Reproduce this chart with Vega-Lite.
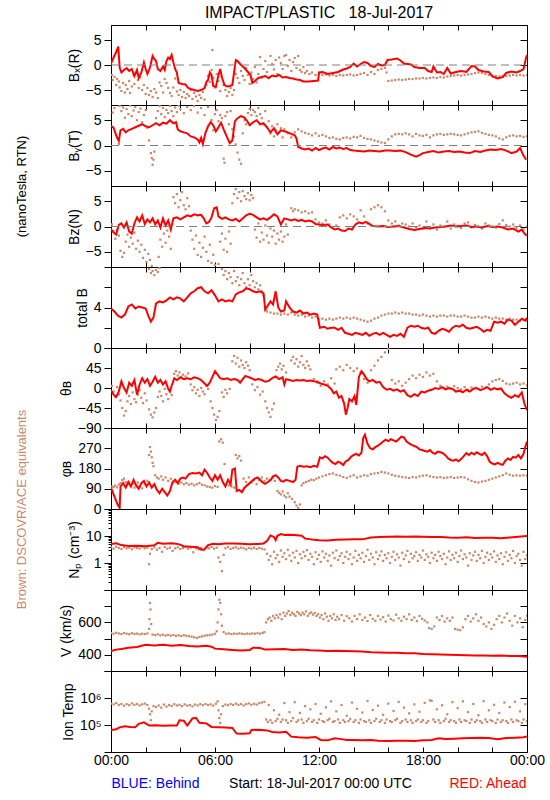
{
"$schema":"https://vega.github.io/schema/vega-lite/v6.json",
"background":"white",
"padding":{"left":14,"top":4,"right":5,"bottom":5},
"spacing":0,
"bounds":"flush",
"config":{"view":{"stroke":"black","strokeWidth":1},"font":"Liberation Sans",
"axis":{"labelFont":"Liberation Sans","labelFontSize":14,"titleFont":"Liberation Sans","titleFontSize":14,"titleFontWeight":"normal","labelColor":"black","titleColor":"black","tickColor":"black","grid":false,"domain":false,"labelPadding":3,"titlePadding":4,"tickWidth":1},
"title":{"font":"Liberation Sans","fontWeight":"normal","color":"black"}},
"datasets":{
"r1":[{"t":0,"v":0.3},{"t":0.15,"v":1.5},{"t":0.3,"v":2.6},{"t":0.42,"v":3.7},{"t":0.5,"v":-0.5},{"t":0.6,"v":-1.5},{"t":0.75,"v":-1.0},{"t":0.9,"v":-0.6},{"t":1.05,"v":-1.2},{"t":1.2,"v":-0.8},{"t":1.35,"v":-2.2},{"t":1.5,"v":-1.0},{"t":1.6,"v":-2.6},{"t":1.75,"v":-1.5},{"t":1.9,"v":0.5},{"t":2.0,"v":-0.8},{"t":2.1,"v":-1.8},{"t":2.25,"v":-0.5},{"t":2.4,"v":1.8},{"t":2.5,"v":1.2},{"t":2.6,"v":0.8},{"t":2.7,"v":-0.8},{"t":2.85,"v":-1.2},{"t":3.0,"v":-0.3},{"t":3.1,"v":-1.0},{"t":3.2,"v":0.8},{"t":3.3,"v":1.5},{"t":3.4,"v":1.2},{"t":3.5,"v":2.0},{"t":3.6,"v":0.5},{"t":3.7,"v":-0.8},{"t":3.8,"v":-1.5},{"t":3.9,"v":-3.6},{"t":4.1,"v":-3.8},{"t":4.3,"v":-3.9},{"t":4.45,"v":-4.6},{"t":4.6,"v":-4.8},{"t":4.8,"v":-5.0},{"t":5.0,"v":-5.2},{"t":5.2,"v":-5.0},{"t":5.4,"v":-4.6},{"t":5.5,"v":-3.4},{"t":5.6,"v":-3.0},{"t":5.7,"v":-1.5},{"t":5.8,"v":-2.0},{"t":5.9,"v":-4.2},{"t":6.05,"v":-4.4},{"t":6.2,"v":-2.0},{"t":6.3,"v":-0.8},{"t":6.4,"v":-2.5},{"t":6.55,"v":-4.0},{"t":6.7,"v":-4.3},{"t":6.85,"v":-4.2},{"t":7.0,"v":-4.0},{"t":7.1,"v":-1.5},{"t":7.2,"v":1.0},{"t":7.3,"v":0.8},{"t":7.45,"v":0.2},{"t":7.6,"v":-0.3},{"t":7.75,"v":-0.8},{"t":7.9,"v":-1.4},{"t":8.05,"v":-2.0},{"t":8.15,"v":-3.6},{"t":8.3,"v":-3.2},{"t":8.5,"v":-2.6},{"t":8.7,"v":-2.4},{"t":8.9,"v":-2.2},{"t":9.1,"v":-2.6},{"t":9.3,"v":-2.1},{"t":9.5,"v":-2.3},{"t":9.7,"v":-2.0},{"t":9.9,"v":-2.5},{"t":10.1,"v":-2.4},{"t":10.3,"v":-2.6},{"t":10.5,"v":-2.7},{"t":10.7,"v":-2.9},{"t":10.9,"v":-3.0},{"t":11.1,"v":-3.3},{"t":11.4,"v":-3.3},{"t":11.7,"v":-3.2},{"t":11.95,"v":-3.1},{"t":12.0,"v":-1.5},{"t":12.2,"v":-1.4},{"t":12.5,"v":-1.8},{"t":12.8,"v":-1.6},{"t":13.1,"v":-1.4},{"t":13.4,"v":-0.9},{"t":13.6,"v":-0.7},{"t":13.8,"v":-0.4},{"t":14.0,"v":0.3},{"t":14.2,"v":-0.3},{"t":14.4,"v":0.2},{"t":14.6,"v":0.6},{"t":14.8,"v":0.4},{"t":15.0,"v":-0.2},{"t":15.2,"v":-0.4},{"t":15.4,"v":0.2},{"t":15.6,"v":-0.1},{"t":15.8,"v":0.0},{"t":15.95,"v":1.0},{"t":16.2,"v":1.1},{"t":16.5,"v":1.3},{"t":16.7,"v":0.9},{"t":16.9,"v":0.3},{"t":17.1,"v":0.2},{"t":17.3,"v":0.1},{"t":17.5,"v":-0.4},{"t":17.8,"v":-0.6},{"t":18.1,"v":-0.6},{"t":18.3,"v":-1.2},{"t":18.5,"v":-1.4},{"t":18.6,"v":-0.3},{"t":18.8,"v":-1.5},{"t":19.0,"v":-1.4},{"t":19.2,"v":-1.8},{"t":19.4,"v":-0.6},{"t":19.6,"v":-1.7},{"t":19.9,"v":-1.4},{"t":20.2,"v":-1.2},{"t":20.5,"v":-1.4},{"t":20.8,"v":-0.2},{"t":21.0,"v":-0.3},{"t":21.2,"v":-1.0},{"t":21.5,"v":-1.3},{"t":21.8,"v":-1.4},{"t":22.0,"v":-2.3},{"t":22.3,"v":-2.7},{"t":22.6,"v":-2.4},{"t":22.8,"v":-1.6},{"t":23.1,"v":-1.3},{"t":23.4,"v":-1.5},{"t":23.6,"v":-1.2},{"t":23.8,"v":-0.8},{"t":23.95,"v":1.5},{"t":24,"v":2.0}],
"b1":[{"t":0.05,"v":-2.0},{"t":0.1,"v":-3.0},{"t":0.2,"v":-2.4},{"t":0.3,"v":-4.0},{"t":0.35,"v":-2.8},{"t":0.45,"v":-3.3},{"t":0.5,"v":-4.5},{"t":0.6,"v":-5.2},{"t":0.7,"v":-3.6},{"t":0.8,"v":-5.5},{"t":0.85,"v":-4.0},{"t":0.95,"v":-4.8},{"t":1.05,"v":-3.2},{"t":1.1,"v":-5.6},{"t":1.2,"v":-4.3},{"t":1.3,"v":-2.0},{"t":1.35,"v":-3.8},{"t":1.45,"v":-1.6},{"t":1.55,"v":-3.0},{"t":1.6,"v":-4.6},{"t":1.7,"v":-2.5},{"t":1.8,"v":-5.0},{"t":1.9,"v":-4.0},{"t":2.0,"v":-5.8},{"t":2.1,"v":-4.6},{"t":2.2,"v":-6.0},{"t":2.3,"v":-5.2},{"t":2.4,"v":-6.4},{"t":2.5,"v":-4.8},{"t":2.6,"v":-5.5},{"t":2.7,"v":-6.6},{"t":2.8,"v":-3.5},{"t":2.9,"v":-4.2},{"t":3.0,"v":-5.5},{"t":3.1,"v":-2.8},{"t":3.2,"v":-3.6},{"t":3.3,"v":-4.6},{"t":3.4,"v":-5.6},{"t":3.5,"v":-6.2},{"t":3.6,"v":-4.5},{"t":3.7,"v":-2.7},{"t":3.8,"v":-5.3},{"t":3.9,"v":-6.0},{"t":4.0,"v":-5.0},{"t":4.1,"v":-6.4},{"t":4.2,"v":-5.4},{"t":4.3,"v":-6.6},{"t":4.4,"v":-5.8},{"t":4.5,"v":-6.2},{"t":4.6,"v":-5.0},{"t":4.7,"v":-6.8},{"t":4.8,"v":-5.6},{"t":4.9,"v":-6.3},{"t":5.0,"v":-7.2},{"t":5.1,"v":-6.0},{"t":5.2,"v":-6.6},{"t":5.3,"v":-5.4},{"t":5.4,"v":-6.9},{"t":5.5,"v":-4.0},{"t":5.6,"v":-2.2},{"t":5.7,"v":-3.4},{"t":5.8,"v":-1.0},{"t":5.85,"v":3.0},{"t":5.9,"v":-2.6},{"t":6.0,"v":-4.5},{"t":6.1,"v":-1.8},{"t":6.2,"v":-3.2},{"t":6.3,"v":-5.2},{"t":6.4,"v":-2.4},{"t":6.5,"v":-4.0},{"t":6.6,"v":-5.0},{"t":6.7,"v":-6.2},{"t":6.8,"v":-5.4},{"t":6.9,"v":-4.6},{"t":7.0,"v":-6.0},{"t":7.1,"v":-5.0},{"t":7.2,"v":-1.8},{"t":7.3,"v":-2.6},{"t":7.4,"v":-3.6},{"t":7.5,"v":-1.2},{"t":7.6,"v":-2.2},{"t":7.7,"v":-3.0},{"t":7.8,"v":-0.6},{"t":7.9,"v":-2.0},{"t":8.0,"v":-3.8},{"t":8.1,"v":-1.5},{"t":8.2,"v":-2.8},{"t":8.3,"v":-0.4},{"t":8.4,"v":-3.5},{"t":8.5,"v":-1.8},{"t":8.6,"v":1.6},{"t":8.7,"v":-2.5},{"t":8.8,"v":-0.8},{"t":8.9,"v":0.8},{"t":9.0,"v":-1.4},{"t":9.1,"v":-2.6},{"t":9.2,"v":1.8},{"t":9.3,"v":0.2},{"t":9.4,"v":-0.9},{"t":9.5,"v":1.0},{"t":9.6,"v":-1.8},{"t":9.7,"v":1.5},{"t":9.8,"v":0.4},{"t":9.9,"v":-0.8},{"t":10.0,"v":1.8},{"t":10.1,"v":2.0},{"t":10.2,"v":-0.2},{"t":10.3,"v":1.0},{"t":10.4,"v":-1.2},{"t":10.5,"v":0.6},{"t":10.6,"v":1.4},{"t":10.7,"v":-0.6},{"t":10.8,"v":1.8},{"t":10.9,"v":-1.0},{"t":11.0,"v":-1.4},{"t":11.1,"v":-0.4},{"t":11.2,"v":-1.6},{"t":11.3,"v":-1.2},{"t":11.45,"v":-1.8},{"t":11.6,"v":-1.5},{"t":11.8,"v":-2.0},{"t":12.0,"v":-1.8},{"t":12.2,"v":-2.0},{"t":12.4,"v":-1.9},{"t":12.6,"v":-2.1},{"t":12.8,"v":-2.0},{"t":13.0,"v":-2.2},{"t":13.2,"v":-2.0},{"t":13.4,"v":-2.1},{"t":13.6,"v":-2.0},{"t":13.8,"v":-1.9},{"t":14.0,"v":-2.1},{"t":14.2,"v":-2.0},{"t":14.4,"v":-1.8},{"t":14.6,"v":-1.6},{"t":14.8,"v":-2.0},{"t":15.0,"v":-1.4},{"t":15.2,"v":-1.8},{"t":15.4,"v":-1.0},{"t":15.6,"v":-0.8},{"t":15.8,"v":-0.6},{"t":15.9,"v":-1.5},{"t":16.0,"v":-3.2},{"t":16.2,"v":-3.1},{"t":16.4,"v":-3.0},{"t":16.6,"v":-2.9},{"t":16.8,"v":-3.0},{"t":17.0,"v":-2.9},{"t":17.2,"v":-2.8},{"t":17.4,"v":-2.8},{"t":17.6,"v":-2.7},{"t":17.8,"v":-2.7},{"t":18.0,"v":-2.6},{"t":18.2,"v":-2.7},{"t":18.4,"v":-2.6},{"t":18.6,"v":-2.5},{"t":18.8,"v":-2.6},{"t":19.0,"v":-2.4},{"t":19.2,"v":-2.5},{"t":19.4,"v":-2.3},{"t":19.6,"v":-2.2},{"t":19.8,"v":-2.1},{"t":20.0,"v":-2.0},{"t":20.2,"v":-2.1},{"t":20.4,"v":-2.0},{"t":20.6,"v":-1.9},{"t":20.8,"v":-1.8},{"t":21.0,"v":-1.6},{"t":21.2,"v":-1.5},{"t":21.4,"v":-1.6},{"t":21.6,"v":-1.8},{"t":21.8,"v":-2.0},{"t":22.0,"v":-2.1},{"t":22.2,"v":-2.2},{"t":22.4,"v":-2.3},{"t":22.6,"v":-2.3},{"t":22.8,"v":-2.2},{"t":23.0,"v":-2.1},{"t":23.2,"v":-2.0},{"t":23.4,"v":-2.1},{"t":23.6,"v":-2.0},{"t":23.8,"v":-2.1},{"t":24.0,"v":-2.0}],
"r2":[{"t":0,"v":3.9},{"t":0.15,"v":3.5},{"t":0.3,"v":2.0},{"t":0.45,"v":0.9},{"t":0.55,"v":3.0},{"t":0.7,"v":3.3},{"t":0.85,"v":2.6},{"t":1.0,"v":3.0},{"t":1.2,"v":3.3},{"t":1.4,"v":3.6},{"t":1.6,"v":3.9},{"t":1.8,"v":4.2},{"t":2.0,"v":3.8},{"t":2.2,"v":3.6},{"t":2.4,"v":4.0},{"t":2.6,"v":4.4},{"t":2.8,"v":4.0},{"t":3.0,"v":4.5},{"t":3.2,"v":4.3},{"t":3.4,"v":5.0},{"t":3.6,"v":4.4},{"t":3.75,"v":4.6},{"t":3.85,"v":3.2},{"t":4.0,"v":2.8},{"t":4.2,"v":2.6},{"t":4.4,"v":2.4},{"t":4.6,"v":1.8},{"t":4.8,"v":1.6},{"t":5.0,"v":1.2},{"t":5.1,"v":0.6},{"t":5.2,"v":1.5},{"t":5.3,"v":0.3},{"t":5.45,"v":2.5},{"t":5.6,"v":3.8},{"t":5.75,"v":4.6},{"t":5.9,"v":4.0},{"t":6.05,"v":2.8},{"t":6.2,"v":3.6},{"t":6.35,"v":4.5},{"t":6.5,"v":3.2},{"t":6.6,"v":2.4},{"t":6.75,"v":1.2},{"t":6.85,"v":0.5},{"t":7.0,"v":1.0},{"t":7.15,"v":4.8},{"t":7.3,"v":5.4},{"t":7.5,"v":5.8},{"t":7.7,"v":5.5},{"t":7.9,"v":4.6},{"t":8.0,"v":4.0},{"t":8.2,"v":4.6},{"t":8.4,"v":5.0},{"t":8.6,"v":4.2},{"t":8.8,"v":4.4},{"t":9.0,"v":3.6},{"t":9.2,"v":2.6},{"t":9.4,"v":3.4},{"t":9.6,"v":2.2},{"t":9.8,"v":3.0},{"t":10.0,"v":2.8},{"t":10.2,"v":2.6},{"t":10.4,"v":2.3},{"t":10.6,"v":2.0},{"t":10.7,"v":1.4},{"t":10.8,"v":-0.3},{"t":11.0,"v":-0.6},{"t":11.2,"v":-0.8},{"t":11.4,"v":-0.6},{"t":11.6,"v":-1.0},{"t":11.8,"v":-0.5},{"t":12.0,"v":-0.9},{"t":12.2,"v":-0.6},{"t":12.4,"v":-0.4},{"t":12.6,"v":-0.8},{"t":12.8,"v":-0.3},{"t":13.0,"v":-0.6},{"t":13.2,"v":-0.4},{"t":13.4,"v":-0.7},{"t":13.6,"v":-0.5},{"t":13.8,"v":-0.9},{"t":14.0,"v":-1.0},{"t":14.3,"v":-1.1},{"t":14.6,"v":-1.2},{"t":14.9,"v":-1.0},{"t":15.2,"v":-1.1},{"t":15.5,"v":-1.2},{"t":15.8,"v":-1.0},{"t":16.1,"v":-1.0},{"t":16.4,"v":-1.1},{"t":16.7,"v":-1.0},{"t":17.0,"v":-1.3},{"t":17.3,"v":-1.8},{"t":17.6,"v":-2.2},{"t":17.8,"v":-1.9},{"t":18.0,"v":-1.5},{"t":18.3,"v":-1.3},{"t":18.6,"v":-1.1},{"t":18.9,"v":-1.4},{"t":19.2,"v":-1.2},{"t":19.5,"v":-1.1},{"t":19.8,"v":-1.3},{"t":20.1,"v":-1.2},{"t":20.4,"v":-1.4},{"t":20.7,"v":-1.5},{"t":21.0,"v":-1.1},{"t":21.3,"v":-1.3},{"t":21.6,"v":-1.0},{"t":21.9,"v":-0.8},{"t":22.2,"v":-0.9},{"t":22.5,"v":-0.7},{"t":22.8,"v":-1.0},{"t":23.1,"v":-1.5},{"t":23.4,"v":-1.2},{"t":23.6,"v":-0.5},{"t":23.8,"v":-2.0},{"t":23.95,"v":-2.8}],
"b2":[{"t":0.1,"v":6.5},{"t":0.2,"v":7.4},{"t":0.35,"v":1.5},{"t":0.45,"v":0.3},{"t":0.5,"v":7.8},{"t":0.6,"v":6.8},{"t":0.7,"v":7.5},{"t":0.8,"v":5.5},{"t":0.9,"v":7.2},{"t":1.0,"v":6.2},{"t":1.1,"v":7.9},{"t":1.2,"v":5.8},{"t":1.3,"v":6.9},{"t":1.4,"v":7.6},{"t":1.5,"v":5.0},{"t":1.6,"v":6.6},{"t":1.7,"v":7.3},{"t":1.8,"v":4.6},{"t":1.9,"v":6.0},{"t":2.0,"v":7.0},{"t":2.1,"v":3.5},{"t":2.2,"v":1.0},{"t":2.3,"v":-1.5},{"t":2.35,"v":-2.5},{"t":2.4,"v":-3.8},{"t":2.45,"v":-2.8},{"t":2.5,"v":-1.2},{"t":2.6,"v":5.4},{"t":2.7,"v":6.8},{"t":2.8,"v":7.8},{"t":2.9,"v":6.2},{"t":3.0,"v":7.4},{"t":3.1,"v":5.6},{"t":3.2,"v":7.0},{"t":3.3,"v":6.4},{"t":3.4,"v":7.8},{"t":3.5,"v":6.8},{"t":3.6,"v":5.8},{"t":3.7,"v":7.5},{"t":3.8,"v":6.6},{"t":3.9,"v":7.9},{"t":4.0,"v":7.2},{"t":4.2,"v":6.4},{"t":4.4,"v":7.6},{"t":4.6,"v":7.0},{"t":4.8,"v":7.8},{"t":5.0,"v":6.5},{"t":5.2,"v":7.4},{"t":5.4,"v":6.0},{"t":5.6,"v":7.6},{"t":5.8,"v":5.0},{"t":5.9,"v":3.0},{"t":6.0,"v":6.2},{"t":6.1,"v":7.0},{"t":6.2,"v":4.8},{"t":6.3,"v":6.0},{"t":6.4,"v":5.4},{"t":6.5,"v":-2.6},{"t":6.55,"v":-3.4},{"t":6.6,"v":5.8},{"t":6.7,"v":6.6},{"t":6.8,"v":4.2},{"t":6.9,"v":6.8},{"t":7.0,"v":3.2},{"t":7.1,"v":1.8},{"t":7.2,"v":0.2},{"t":7.3,"v":-1.4},{"t":7.4,"v":-2.8},{"t":7.5,"v":-3.6},{"t":7.6,"v":2.4},{"t":7.7,"v":5.0},{"t":7.8,"v":4.2},{"t":7.9,"v":6.4},{"t":8.0,"v":7.2},{"t":8.1,"v":6.0},{"t":8.2,"v":7.0},{"t":8.3,"v":6.6},{"t":8.4,"v":5.8},{"t":8.5,"v":7.4},{"t":8.6,"v":6.2},{"t":8.7,"v":5.4},{"t":8.8,"v":4.2},{"t":8.9,"v":6.8},{"t":9.0,"v":3.6},{"t":9.1,"v":4.8},{"t":9.2,"v":2.4},{"t":9.3,"v":3.8},{"t":9.4,"v":1.8},{"t":9.5,"v":3.0},{"t":9.6,"v":4.2},{"t":9.7,"v":2.6},{"t":9.8,"v":3.4},{"t":9.9,"v":1.6},{"t":10.0,"v":3.2},{"t":10.2,"v":2.4},{"t":10.4,"v":1.6},{"t":10.6,"v":2.6},{"t":10.8,"v":3.2},{"t":11.0,"v":2.8},{"t":11.2,"v":2.5},{"t":11.4,"v":2.3},{"t":11.6,"v":2.0},{"t":11.8,"v":2.4},{"t":12.0,"v":1.9},{"t":12.2,"v":2.1},{"t":12.4,"v":1.8},{"t":12.6,"v":1.5},{"t":12.8,"v":1.6},{"t":13.0,"v":1.3},{"t":13.2,"v":1.2},{"t":13.4,"v":1.5},{"t":13.6,"v":1.6},{"t":13.8,"v":1.4},{"t":14.0,"v":1.7},{"t":14.2,"v":1.6},{"t":14.4,"v":1.9},{"t":14.6,"v":1.5},{"t":14.8,"v":1.3},{"t":15.0,"v":1.2},{"t":15.2,"v":1.0},{"t":15.4,"v":0.8},{"t":15.6,"v":0.6},{"t":15.8,"v":0.5},{"t":16.0,"v":1.2},{"t":16.2,"v":1.8},{"t":16.4,"v":2.2},{"t":16.6,"v":2.3},{"t":16.8,"v":2.2},{"t":17.0,"v":2.4},{"t":17.2,"v":2.2},{"t":17.4,"v":1.8},{"t":17.6,"v":2.3},{"t":17.8,"v":2.0},{"t":18.0,"v":1.9},{"t":18.2,"v":2.1},{"t":18.4,"v":1.6},{"t":18.6,"v":2.0},{"t":18.8,"v":2.2},{"t":19.0,"v":2.3},{"t":19.2,"v":2.1},{"t":19.4,"v":2.2},{"t":19.6,"v":2.3},{"t":19.8,"v":2.2},{"t":20.0,"v":2.1},{"t":20.2,"v":2.0},{"t":20.4,"v":2.2},{"t":20.6,"v":2.4},{"t":20.8,"v":2.6},{"t":21.0,"v":2.7},{"t":21.2,"v":2.8},{"t":21.4,"v":2.5},{"t":21.6,"v":2.3},{"t":21.8,"v":2.1},{"t":22.0,"v":2.0},{"t":22.2,"v":1.8},{"t":22.4,"v":1.4},{"t":22.6,"v":1.2},{"t":22.8,"v":1.6},{"t":23.0,"v":1.9},{"t":23.2,"v":2.0},{"t":23.4,"v":1.8},{"t":23.6,"v":1.9},{"t":23.8,"v":1.7},{"t":24.0,"v":1.8}],
"r3":[{"t":0,"v":-0.5},{"t":0.15,"v":-1.2},{"t":0.3,"v":-1.6},{"t":0.45,"v":0.3},{"t":0.6,"v":0.6},{"t":0.75,"v":-0.2},{"t":0.9,"v":0.8},{"t":1.05,"v":-1.0},{"t":1.2,"v":-1.4},{"t":1.35,"v":0.6},{"t":1.5,"v":1.8},{"t":1.65,"v":1.0},{"t":1.8,"v":2.2},{"t":1.95,"v":0.5},{"t":2.1,"v":1.4},{"t":2.25,"v":0.8},{"t":2.4,"v":1.6},{"t":2.55,"v":0.4},{"t":2.7,"v":1.2},{"t":2.85,"v":-0.2},{"t":3.0,"v":1.6},{"t":3.15,"v":0.2},{"t":3.3,"v":1.2},{"t":3.45,"v":-0.6},{"t":3.6,"v":1.6},{"t":3.8,"v":1.8},{"t":4.0,"v":1.4},{"t":4.2,"v":1.8},{"t":4.4,"v":2.2},{"t":4.6,"v":2.0},{"t":4.8,"v":2.4},{"t":5.0,"v":2.2},{"t":5.2,"v":2.3},{"t":5.35,"v":1.6},{"t":5.5,"v":0.6},{"t":5.65,"v":0.9},{"t":5.8,"v":1.8},{"t":5.95,"v":3.6},{"t":6.1,"v":3.8},{"t":6.2,"v":2.0},{"t":6.4,"v":1.5},{"t":6.6,"v":1.8},{"t":6.8,"v":1.4},{"t":7.0,"v":1.2},{"t":7.2,"v":1.5},{"t":7.4,"v":1.0},{"t":7.6,"v":1.6},{"t":7.8,"v":2.2},{"t":8.0,"v":2.5},{"t":8.2,"v":2.3},{"t":8.4,"v":1.8},{"t":8.6,"v":1.4},{"t":8.8,"v":1.6},{"t":9.0,"v":1.3},{"t":9.2,"v":1.8},{"t":9.4,"v":2.4},{"t":9.6,"v":2.0},{"t":9.8,"v":0.4},{"t":10.0,"v":1.6},{"t":10.2,"v":1.4},{"t":10.4,"v":1.2},{"t":10.6,"v":1.4},{"t":10.8,"v":1.1},{"t":11.0,"v":1.3},{"t":11.2,"v":1.0},{"t":11.4,"v":1.2},{"t":11.6,"v":1.0},{"t":11.8,"v":0.5},{"t":12.0,"v":0.4},{"t":12.2,"v":0.3},{"t":12.5,"v":0.4},{"t":12.7,"v":-0.2},{"t":12.9,"v":-0.6},{"t":13.1,"v":-0.4},{"t":13.3,"v":-0.8},{"t":13.5,"v":-0.9},{"t":13.7,"v":-0.4},{"t":13.9,"v":-0.6},{"t":14.1,"v":0.4},{"t":14.3,"v":0.8},{"t":14.5,"v":0.6},{"t":14.7,"v":0.9},{"t":14.9,"v":0.5},{"t":15.1,"v":0.1},{"t":15.4,"v":0.0},{"t":15.7,"v":0.1},{"t":16.0,"v":-0.1},{"t":16.3,"v":0.0},{"t":16.6,"v":0.1},{"t":16.9,"v":-0.2},{"t":17.2,"v":-0.5},{"t":17.5,"v":-0.7},{"t":17.8,"v":-0.5},{"t":18.1,"v":-0.3},{"t":18.4,"v":-0.4},{"t":18.7,"v":-0.2},{"t":19.0,"v":-0.1},{"t":19.3,"v":0.0},{"t":19.6,"v":0.2},{"t":19.9,"v":0.0},{"t":20.2,"v":0.1},{"t":20.5,"v":0.2},{"t":20.8,"v":-0.1},{"t":21.1,"v":0.0},{"t":21.4,"v":-0.2},{"t":21.7,"v":0.1},{"t":22.0,"v":-0.1},{"t":22.3,"v":0.0},{"t":22.6,"v":-0.2},{"t":22.9,"v":-0.6},{"t":23.2,"v":-0.4},{"t":23.5,"v":-1.0},{"t":23.7,"v":-0.6},{"t":23.85,"v":-1.4},{"t":24,"v":-1.8}],
"b3":[{"t":0.05,"v":0.4},{"t":0.15,"v":-1.0},{"t":0.25,"v":-2.4},{"t":0.35,"v":-0.6},{"t":0.45,"v":-1.8},{"t":0.55,"v":-4.8},{"t":0.65,"v":-6.0},{"t":0.75,"v":-5.2},{"t":0.85,"v":-3.0},{"t":0.95,"v":-1.6},{"t":1.05,"v":-4.0},{"t":1.15,"v":-2.2},{"t":1.25,"v":-3.4},{"t":1.35,"v":-1.2},{"t":1.45,"v":-4.4},{"t":1.55,"v":-2.8},{"t":1.65,"v":-5.0},{"t":1.75,"v":-3.6},{"t":1.85,"v":-6.2},{"t":1.95,"v":-4.6},{"t":2.05,"v":-7.0},{"t":2.15,"v":-5.4},{"t":2.25,"v":-6.6},{"t":2.35,"v":-7.8},{"t":2.45,"v":-8.5},{"t":2.55,"v":-9.0},{"t":2.65,"v":-8.2},{"t":2.75,"v":-6.0},{"t":2.85,"v":-2.6},{"t":2.95,"v":-4.0},{"t":3.05,"v":-1.4},{"t":3.15,"v":-3.2},{"t":3.25,"v":-0.8},{"t":3.35,"v":-2.0},{"t":3.45,"v":-4.4},{"t":3.6,"v":5.8},{"t":3.7,"v":4.6},{"t":3.8,"v":6.4},{"t":3.9,"v":3.8},{"t":4.0,"v":5.2},{"t":4.1,"v":6.8},{"t":4.2,"v":4.2},{"t":4.3,"v":3.4},{"t":4.4,"v":5.6},{"t":4.5,"v":4.0},{"t":4.6,"v":-0.8},{"t":4.7,"v":-2.6},{"t":4.8,"v":-4.4},{"t":4.9,"v":-1.8},{"t":5.0,"v":-5.6},{"t":5.1,"v":-3.2},{"t":5.2,"v":-6.0},{"t":5.3,"v":-4.2},{"t":5.4,"v":-2.0},{"t":5.5,"v":-5.0},{"t":5.6,"v":-6.8},{"t":5.7,"v":-3.6},{"t":5.8,"v":-7.2},{"t":5.9,"v":-5.6},{"t":6.0,"v":-7.6},{"t":6.1,"v":-8.6},{"t":6.2,"v":-7.4},{"t":6.3,"v":-3.0},{"t":6.4,"v":-1.4},{"t":6.5,"v":-4.6},{"t":6.6,"v":-2.4},{"t":6.7,"v":-5.0},{"t":6.8,"v":-1.0},{"t":6.9,"v":-3.4},{"t":7.0,"v":4.6},{"t":7.1,"v":6.4},{"t":7.2,"v":7.4},{"t":7.3,"v":5.6},{"t":7.4,"v":6.8},{"t":7.5,"v":5.0},{"t":7.6,"v":7.0},{"t":7.7,"v":6.0},{"t":7.8,"v":5.4},{"t":7.9,"v":6.6},{"t":8.0,"v":5.2},{"t":8.1,"v":6.2},{"t":8.2,"v":5.6},{"t":8.3,"v":-0.6},{"t":8.4,"v":-2.2},{"t":8.5,"v":0.6},{"t":8.6,"v":-3.0},{"t":8.7,"v":-1.2},{"t":8.8,"v":-2.6},{"t":8.9,"v":0.2},{"t":9.0,"v":-1.8},{"t":9.1,"v":-3.2},{"t":9.2,"v":-0.4},{"t":9.3,"v":-2.0},{"t":9.4,"v":-0.8},{"t":9.5,"v":-3.4},{"t":9.6,"v":-1.4},{"t":9.7,"v":-2.6},{"t":9.8,"v":-1.0},{"t":9.9,"v":-3.0},{"t":10.0,"v":-2.0},{"t":10.1,"v":0.4},{"t":10.2,"v":-1.6},{"t":10.4,"v":3.6},{"t":10.5,"v":3.0},{"t":10.6,"v":3.4},{"t":10.8,"v":3.2},{"t":11.0,"v":2.8},{"t":11.2,"v":3.0},{"t":11.4,"v":2.6},{"t":11.6,"v":2.8},{"t":11.8,"v":1.4},{"t":12.0,"v":0.8},{"t":12.2,"v":0.6},{"t":12.4,"v":1.2},{"t":12.6,"v":0.4},{"t":12.8,"v":-0.2},{"t":13.0,"v":0.2},{"t":13.2,"v":1.8},{"t":13.4,"v":2.2},{"t":13.6,"v":1.6},{"t":13.8,"v":2.4},{"t":14.0,"v":2.0},{"t":14.2,"v":1.4},{"t":14.4,"v":3.2},{"t":14.6,"v":2.0},{"t":14.8,"v":0.6},{"t":15.0,"v":3.4},{"t":15.2,"v":3.8},{"t":15.4,"v":4.2},{"t":15.6,"v":3.8},{"t":15.8,"v":3.0},{"t":16.0,"v":1.2},{"t":16.2,"v":0.6},{"t":16.4,"v":1.0},{"t":16.6,"v":0.2},{"t":16.8,"v":0.6},{"t":17.0,"v":0.4},{"t":17.2,"v":0.0},{"t":17.4,"v":0.6},{"t":17.6,"v":-0.2},{"t":17.8,"v":0.2},{"t":18.0,"v":-0.4},{"t":18.2,"v":1.0},{"t":18.4,"v":-0.2},{"t":18.6,"v":0.4},{"t":18.8,"v":-0.6},{"t":19.0,"v":0.2},{"t":19.2,"v":0.0},{"t":19.4,"v":1.0},{"t":19.6,"v":-0.4},{"t":19.8,"v":0.4},{"t":20.0,"v":0.1},{"t":20.2,"v":-0.3},{"t":20.4,"v":0.6},{"t":20.6,"v":0.8},{"t":20.8,"v":-0.2},{"t":21.0,"v":0.3},{"t":21.2,"v":0.0},{"t":21.4,"v":-0.4},{"t":21.6,"v":0.6},{"t":21.8,"v":0.2},{"t":22.0,"v":0.0},{"t":22.2,"v":-0.2},{"t":22.4,"v":0.5},{"t":22.6,"v":1.2},{"t":22.8,"v":0.3},{"t":23.0,"v":0.0},{"t":23.2,"v":0.4},{"t":23.4,"v":-0.3},{"t":23.6,"v":0.2},{"t":23.8,"v":-0.6},{"t":24.0,"v":0.0}],
"r4":[{"t":0,"v":3.9},{"t":0.2,"v":3.6},{"t":0.4,"v":3.2},{"t":0.6,"v":3.0},{"t":0.8,"v":3.3},{"t":1.0,"v":4.1},{"t":1.2,"v":4.3},{"t":1.4,"v":3.9},{"t":1.6,"v":4.1},{"t":1.8,"v":4.0},{"t":2.0,"v":3.9},{"t":2.15,"v":3.2},{"t":2.3,"v":2.6},{"t":2.45,"v":3.0},{"t":2.6,"v":4.4},{"t":2.8,"v":4.6},{"t":3.0,"v":4.5},{"t":3.2,"v":4.7},{"t":3.4,"v":5.0},{"t":3.6,"v":4.8},{"t":3.8,"v":5.0},{"t":4.0,"v":4.9},{"t":4.2,"v":4.6},{"t":4.4,"v":5.0},{"t":4.6,"v":5.4},{"t":4.8,"v":5.6},{"t":5.0,"v":5.9},{"t":5.2,"v":6.0},{"t":5.4,"v":5.6},{"t":5.6,"v":5.4},{"t":5.8,"v":5.7},{"t":6.0,"v":5.2},{"t":6.2,"v":4.6},{"t":6.4,"v":4.8},{"t":6.6,"v":4.6},{"t":6.8,"v":4.7},{"t":7.0,"v":4.6},{"t":7.2,"v":5.3},{"t":7.4,"v":5.5},{"t":7.6,"v":5.6},{"t":7.8,"v":5.9},{"t":8.0,"v":5.8},{"t":8.2,"v":5.6},{"t":8.4,"v":5.5},{"t":8.6,"v":5.6},{"t":8.8,"v":5.4},{"t":8.9,"v":3.8},{"t":9.05,"v":4.2},{"t":9.2,"v":4.6},{"t":9.35,"v":4.3},{"t":9.5,"v":5.6},{"t":9.65,"v":4.0},{"t":9.8,"v":3.6},{"t":10.0,"v":3.7},{"t":10.1,"v":4.6},{"t":10.3,"v":4.0},{"t":10.5,"v":3.6},{"t":10.7,"v":3.5},{"t":10.9,"v":3.7},{"t":11.1,"v":3.4},{"t":11.3,"v":3.5},{"t":11.5,"v":3.3},{"t":11.7,"v":3.4},{"t":11.9,"v":3.3},{"t":12.05,"v":2.0},{"t":12.3,"v":2.1},{"t":12.5,"v":1.9},{"t":12.7,"v":2.0},{"t":12.9,"v":2.0},{"t":13.1,"v":1.8},{"t":13.3,"v":2.0},{"t":13.5,"v":1.5},{"t":13.7,"v":1.4},{"t":13.9,"v":1.3},{"t":14.1,"v":1.5},{"t":14.3,"v":1.4},{"t":14.5,"v":1.3},{"t":14.7,"v":1.5},{"t":14.9,"v":1.2},{"t":15.1,"v":1.4},{"t":15.3,"v":1.5},{"t":15.5,"v":1.3},{"t":15.7,"v":1.5},{"t":15.9,"v":1.3},{"t":16.1,"v":1.1},{"t":16.3,"v":1.3},{"t":16.5,"v":1.2},{"t":16.7,"v":1.4},{"t":16.9,"v":1.1},{"t":17.1,"v":2.0},{"t":17.3,"v":2.2},{"t":17.5,"v":2.1},{"t":17.7,"v":2.2},{"t":17.9,"v":2.0},{"t":18.1,"v":1.9},{"t":18.3,"v":2.0},{"t":18.5,"v":1.5},{"t":18.7,"v":1.4},{"t":18.9,"v":1.7},{"t":19.1,"v":1.9},{"t":19.3,"v":1.8},{"t":19.5,"v":1.6},{"t":19.7,"v":2.0},{"t":19.9,"v":2.2},{"t":20.1,"v":2.1},{"t":20.3,"v":2.3},{"t":20.5,"v":2.0},{"t":20.7,"v":1.9},{"t":20.9,"v":2.0},{"t":21.1,"v":2.1},{"t":21.3,"v":1.9},{"t":21.5,"v":1.6},{"t":21.7,"v":1.8},{"t":21.9,"v":1.7},{"t":22.1,"v":2.6},{"t":22.3,"v":2.5},{"t":22.5,"v":2.6},{"t":22.7,"v":2.4},{"t":22.9,"v":2.8},{"t":23.1,"v":2.7},{"t":23.3,"v":2.3},{"t":23.5,"v":2.6},{"t":23.7,"v":2.9},{"t":23.9,"v":2.7},{"t":24,"v":3.0}],
"b4":[{"t":2.2,"v":7.8},{"t":2.3,"v":7.4},{"t":2.4,"v":7.6},{"t":2.5,"v":7.2},{"t":2.6,"v":7.7},{"t":2.7,"v":7.5},{"t":2.8,"v":7.9},{"t":6.4,"v":7.8},{"t":6.5,"v":7.2},{"t":6.6,"v":7.6},{"t":6.7,"v":6.8},{"t":6.8,"v":7.4},{"t":6.9,"v":7.0},{"t":7.0,"v":6.4},{"t":7.1,"v":7.6},{"t":7.2,"v":6.6},{"t":7.3,"v":7.0},{"t":7.4,"v":6.2},{"t":7.5,"v":6.8},{"t":7.6,"v":7.4},{"t":7.7,"v":6.4},{"t":7.8,"v":6.0},{"t":7.9,"v":6.8},{"t":8.0,"v":6.2},{"t":8.1,"v":7.2},{"t":8.2,"v":6.6},{"t":8.3,"v":6.0},{"t":8.4,"v":6.4},{"t":8.5,"v":5.8},{"t":8.6,"v":6.2},{"t":8.7,"v":5.6},{"t":8.8,"v":5.2},{"t":8.9,"v":3.8},{"t":9.0,"v":3.6},{"t":9.2,"v":3.5},{"t":9.4,"v":3.4},{"t":9.6,"v":3.4},{"t":9.8,"v":3.3},{"t":10.0,"v":3.4},{"t":10.2,"v":3.3},{"t":10.4,"v":3.5},{"t":10.6,"v":3.3},{"t":10.8,"v":3.2},{"t":11.0,"v":3.3},{"t":11.2,"v":3.1},{"t":11.4,"v":3.2},{"t":11.6,"v":3.0},{"t":11.8,"v":3.1},{"t":12.0,"v":2.8},{"t":12.2,"v":2.9},{"t":12.4,"v":2.8},{"t":12.6,"v":2.9},{"t":12.8,"v":2.8},{"t":13.0,"v":2.9},{"t":13.2,"v":3.0},{"t":13.4,"v":2.9},{"t":13.6,"v":3.0},{"t":13.8,"v":2.9},{"t":14.0,"v":3.0},{"t":14.2,"v":2.9},{"t":14.4,"v":2.8},{"t":14.6,"v":2.7},{"t":14.8,"v":2.6},{"t":15.0,"v":2.7},{"t":15.2,"v":2.9},{"t":15.4,"v":3.0},{"t":15.6,"v":3.2},{"t":15.8,"v":3.3},{"t":16.0,"v":3.4},{"t":16.2,"v":3.4},{"t":16.4,"v":3.5},{"t":16.6,"v":3.4},{"t":16.8,"v":3.5},{"t":17.0,"v":3.4},{"t":17.2,"v":3.4},{"t":17.4,"v":3.3},{"t":17.6,"v":3.3},{"t":17.8,"v":3.2},{"t":18.0,"v":3.3},{"t":18.2,"v":3.2},{"t":18.4,"v":3.1},{"t":18.6,"v":3.2},{"t":18.8,"v":3.1},{"t":19.0,"v":3.2},{"t":19.2,"v":3.2},{"t":19.4,"v":3.1},{"t":19.6,"v":3.2},{"t":19.8,"v":3.2},{"t":20.0,"v":3.1},{"t":20.2,"v":3.1},{"t":20.4,"v":3.2},{"t":20.6,"v":3.1},{"t":20.8,"v":3.0},{"t":21.0,"v":3.0},{"t":21.2,"v":3.1},{"t":21.4,"v":3.0},{"t":21.6,"v":3.1},{"t":21.8,"v":3.0},{"t":22.0,"v":2.9},{"t":22.2,"v":3.0},{"t":22.4,"v":2.9},{"t":22.6,"v":2.9},{"t":22.8,"v":2.8},{"t":23.0,"v":2.9},{"t":23.2,"v":2.8},{"t":23.4,"v":2.8},{"t":23.6,"v":2.7},{"t":23.8,"v":2.8},{"t":24.0,"v":2.7}],
"r5":[{"t":0,"v":-5},{"t":0.15,"v":-15},{"t":0.3,"v":-20},{"t":0.45,"v":-8},{"t":0.6,"v":15},{"t":0.75,"v":0},{"t":0.9,"v":-10},{"t":1.05,"v":12},{"t":1.2,"v":5},{"t":1.35,"v":18},{"t":1.5,"v":-15},{"t":1.65,"v":8},{"t":1.8,"v":22},{"t":1.95,"v":12},{"t":2.1,"v":20},{"t":2.25,"v":5},{"t":2.4,"v":14},{"t":2.55,"v":25},{"t":2.7,"v":12},{"t":2.85,"v":18},{"t":3.0,"v":8},{"t":3.15,"v":15},{"t":3.3,"v":-2},{"t":3.4,"v":-8},{"t":3.5,"v":5},{"t":3.65,"v":22},{"t":3.8,"v":18},{"t":4.0,"v":24},{"t":4.2,"v":20},{"t":4.4,"v":22},{"t":4.6,"v":20},{"t":4.8,"v":24},{"t":5.0,"v":22},{"t":5.2,"v":18},{"t":5.4,"v":10},{"t":5.55,"v":5},{"t":5.7,"v":12},{"t":5.85,"v":25},{"t":6.0,"v":38},{"t":6.15,"v":30},{"t":6.3,"v":22},{"t":6.5,"v":20},{"t":6.7,"v":22},{"t":6.9,"v":18},{"t":7.1,"v":20},{"t":7.3,"v":18},{"t":7.45,"v":12},{"t":7.6,"v":20},{"t":7.75,"v":27},{"t":7.9,"v":25},{"t":8.1,"v":22},{"t":8.3,"v":18},{"t":8.5,"v":20},{"t":8.7,"v":18},{"t":8.9,"v":14},{"t":9.1,"v":16},{"t":9.3,"v":22},{"t":9.5,"v":26},{"t":9.7,"v":20},{"t":9.9,"v":24},{"t":10.0,"v":8},{"t":10.1,"v":20},{"t":10.3,"v":18},{"t":10.5,"v":16},{"t":10.7,"v":18},{"t":10.9,"v":17},{"t":11.1,"v":18},{"t":11.3,"v":16},{"t":11.5,"v":17},{"t":11.7,"v":15},{"t":11.9,"v":14},{"t":12.1,"v":10},{"t":12.3,"v":8},{"t":12.5,"v":5},{"t":12.7,"v":-2},{"t":12.85,"v":-12},{"t":13.0,"v":-8},{"t":13.15,"v":-22},{"t":13.3,"v":-18},{"t":13.45,"v":-35},{"t":13.55,"v":-60},{"t":13.65,"v":-45},{"t":13.75,"v":-25},{"t":13.9,"v":-30},{"t":14.05,"v":-18},{"t":14.15,"v":-38},{"t":14.3,"v":25},{"t":14.45,"v":38},{"t":14.6,"v":30},{"t":14.75,"v":20},{"t":14.9,"v":15},{"t":15.1,"v":18},{"t":15.3,"v":12},{"t":15.5,"v":14},{"t":15.7,"v":2},{"t":15.9,"v":-4},{"t":16.1,"v":-2},{"t":16.3,"v":-6},{"t":16.5,"v":-3},{"t":16.7,"v":-8},{"t":16.9,"v":-5},{"t":17.1,"v":-16},{"t":17.3,"v":-20},{"t":17.5,"v":-14},{"t":17.7,"v":-18},{"t":17.9,"v":-8},{"t":18.1,"v":-10},{"t":18.3,"v":-6},{"t":18.5,"v":-4},{"t":18.7,"v":0},{"t":18.9,"v":-2},{"t":19.1,"v":2},{"t":19.3,"v":-3},{"t":19.5,"v":0},{"t":19.7,"v":-2},{"t":19.9,"v":-8},{"t":20.1,"v":-6},{"t":20.3,"v":-10},{"t":20.5,"v":-4},{"t":20.7,"v":-8},{"t":20.9,"v":-2},{"t":21.1,"v":0},{"t":21.3,"v":-5},{"t":21.5,"v":-2},{"t":21.7,"v":2},{"t":21.9,"v":-4},{"t":22.1,"v":0},{"t":22.3,"v":-3},{"t":22.5,"v":-1},{"t":22.7,"v":-12},{"t":22.9,"v":-18},{"t":23.1,"v":-22},{"t":23.3,"v":-16},{"t":23.5,"v":-20},{"t":23.7,"v":-10},{"t":23.85,"v":-35},{"t":24,"v":-50}],
"b5":[{"t":0.05,"v":5},{"t":0.15,"v":-8},{"t":0.25,"v":-20},{"t":0.35,"v":2},{"t":0.45,"v":-15},{"t":0.55,"v":-28},{"t":0.65,"v":-45},{"t":0.75,"v":-62},{"t":0.85,"v":-52},{"t":0.95,"v":-30},{"t":1.05,"v":-18},{"t":1.15,"v":-36},{"t":1.25,"v":-10},{"t":1.35,"v":-25},{"t":1.45,"v":-32},{"t":1.55,"v":-15},{"t":1.65,"v":-5},{"t":1.75,"v":-22},{"t":1.85,"v":-34},{"t":1.95,"v":-12},{"t":2.05,"v":-28},{"t":2.2,"v":-48},{"t":2.3,"v":-60},{"t":2.4,"v":-66},{"t":2.5,"v":-55},{"t":2.6,"v":-45},{"t":2.7,"v":-20},{"t":2.8,"v":-8},{"t":2.9,"v":-18},{"t":3.0,"v":-30},{"t":3.1,"v":-2},{"t":3.2,"v":-14},{"t":3.3,"v":-25},{"t":3.4,"v":-6},{"t":3.5,"v":-16},{"t":3.65,"v":32},{"t":3.75,"v":38},{"t":3.85,"v":28},{"t":3.95,"v":35},{"t":4.05,"v":25},{"t":4.15,"v":30},{"t":4.3,"v":26},{"t":4.45,"v":33},{"t":4.6,"v":8},{"t":4.7,"v":-5},{"t":4.8,"v":2},{"t":4.9,"v":-12},{"t":5.0,"v":-4},{"t":5.1,"v":-18},{"t":5.2,"v":0},{"t":5.3,"v":-8},{"t":5.4,"v":-14},{"t":5.5,"v":5},{"t":5.6,"v":-2},{"t":5.75,"v":-30},{"t":5.85,"v":-45},{"t":5.95,"v":-60},{"t":6.05,"v":-72},{"t":6.15,"v":-65},{"t":6.25,"v":-52},{"t":6.4,"v":-10},{"t":6.5,"v":-20},{"t":6.6,"v":-4},{"t":6.7,"v":-12},{"t":6.85,"v":-2},{"t":7.0,"v":60},{"t":7.1,"v":72},{"t":7.2,"v":55},{"t":7.3,"v":68},{"t":7.4,"v":48},{"t":7.5,"v":62},{"t":7.6,"v":52},{"t":7.7,"v":45},{"t":7.8,"v":58},{"t":7.9,"v":50},{"t":8.0,"v":40},{"t":8.15,"v":8},{"t":8.3,"v":-5},{"t":8.45,"v":2},{"t":8.6,"v":-15},{"t":8.75,"v":-8},{"t":8.9,"v":-30},{"t":9.0,"v":-45},{"t":9.1,"v":-55},{"t":9.2,"v":-65},{"t":9.3,"v":-48},{"t":9.4,"v":-35},{"t":9.55,"v":40},{"t":9.65,"v":48},{"t":9.75,"v":55},{"t":9.85,"v":42},{"t":9.95,"v":50},{"t":10.1,"v":35},{"t":10.4,"v":62},{"t":10.5,"v":70},{"t":10.6,"v":55},{"t":10.7,"v":65},{"t":10.8,"v":48},{"t":10.9,"v":58},{"t":11.0,"v":72},{"t":11.1,"v":52},{"t":11.2,"v":45},{"t":11.3,"v":60},{"t":11.4,"v":50},{"t":11.5,"v":42},{"t":11.7,"v":20},{"t":11.9,"v":12},{"t":12.1,"v":5},{"t":12.3,"v":15},{"t":12.5,"v":8},{"t":12.7,"v":22},{"t":12.9,"v":10},{"t":13.0,"v":42},{"t":13.2,"v":48},{"t":13.4,"v":40},{"t":13.6,"v":52},{"t":13.8,"v":45},{"t":14.0,"v":38},{"t":14.2,"v":44},{"t":14.4,"v":35},{"t":14.6,"v":20},{"t":14.8,"v":12},{"t":15.0,"v":40},{"t":15.2,"v":50},{"t":15.4,"v":62},{"t":15.6,"v":70},{"t":15.8,"v":80},{"t":16.0,"v":88},{"t":16.2,"v":18},{"t":16.4,"v":10},{"t":16.6,"v":15},{"t":16.8,"v":5},{"t":17.0,"v":12},{"t":17.2,"v":20},{"t":17.4,"v":28},{"t":17.6,"v":22},{"t":17.8,"v":30},{"t":18.0,"v":25},{"t":18.2,"v":35},{"t":18.4,"v":28},{"t":18.6,"v":32},{"t":18.8,"v":15},{"t":19.0,"v":5},{"t":19.2,"v":0},{"t":19.4,"v":3},{"t":19.6,"v":-2},{"t":19.8,"v":4},{"t":20.0,"v":0},{"t":20.2,"v":-3},{"t":20.4,"v":2},{"t":20.6,"v":-4},{"t":20.8,"v":1},{"t":21.0,"v":0},{"t":21.2,"v":-2},{"t":21.4,"v":3},{"t":21.6,"v":1},{"t":21.8,"v":8},{"t":22.0,"v":15},{"t":22.2,"v":18},{"t":22.4,"v":20},{"t":22.6,"v":16},{"t":22.8,"v":10},{"t":23.0,"v":8},{"t":23.2,"v":10},{"t":23.4,"v":12},{"t":23.6,"v":8},{"t":23.8,"v":10},{"t":24.0,"v":6}],
"r6":[{"t":0,"v":95},{"t":0.1,"v":75},{"t":0.2,"v":55},{"t":0.3,"v":35},{"t":0.4,"v":18},{"t":0.5,"v":5},{"t":0.55,"v":100},{"t":0.7,"v":115},{"t":0.85,"v":95},{"t":1.0,"v":120},{"t":1.15,"v":100},{"t":1.3,"v":130},{"t":1.45,"v":105},{"t":1.6,"v":90},{"t":1.75,"v":115},{"t":1.9,"v":125},{"t":2.05,"v":100},{"t":2.2,"v":118},{"t":2.35,"v":95},{"t":2.5,"v":110},{"t":2.65,"v":85},{"t":2.8,"v":70},{"t":2.95,"v":90},{"t":3.1,"v":75},{"t":3.25,"v":60},{"t":3.4,"v":80},{"t":3.55,"v":120},{"t":3.7,"v":130},{"t":3.85,"v":115},{"t":4.0,"v":135},{"t":4.15,"v":140},{"t":4.3,"v":135},{"t":4.5,"v":155},{"t":4.7,"v":160},{"t":4.9,"v":158},{"t":5.1,"v":162},{"t":5.25,"v":150},{"t":5.4,"v":175},{"t":5.55,"v":160},{"t":5.7,"v":140},{"t":5.85,"v":125},{"t":6.0,"v":150},{"t":6.15,"v":130},{"t":6.3,"v":150},{"t":6.45,"v":120},{"t":6.6,"v":100},{"t":6.75,"v":130},{"t":6.9,"v":110},{"t":7.0,"v":175},{"t":7.15,"v":180},{"t":7.25,"v":80},{"t":7.4,"v":85},{"t":7.55,"v":75},{"t":7.7,"v":95},{"t":7.85,"v":105},{"t":8.0,"v":115},{"t":8.15,"v":125},{"t":8.3,"v":135},{"t":8.45,"v":140},{"t":8.6,"v":130},{"t":8.75,"v":118},{"t":8.9,"v":112},{"t":9.05,"v":120},{"t":9.2,"v":128},{"t":9.35,"v":145},{"t":9.5,"v":150},{"t":9.65,"v":140},{"t":9.8,"v":125},{"t":9.95,"v":122},{"t":10.1,"v":130},{"t":10.3,"v":125},{"t":10.5,"v":120},{"t":10.65,"v":130},{"t":10.75,"v":188},{"t":10.9,"v":192},{"t":11.1,"v":188},{"t":11.3,"v":190},{"t":11.5,"v":186},{"t":11.7,"v":192},{"t":11.9,"v":188},{"t":12.05,"v":230},{"t":12.2,"v":225},{"t":12.35,"v":235},{"t":12.5,"v":228},{"t":12.65,"v":215},{"t":12.8,"v":205},{"t":12.95,"v":200},{"t":13.1,"v":210},{"t":13.25,"v":205},{"t":13.4,"v":195},{"t":13.55,"v":212},{"t":13.7,"v":218},{"t":13.85,"v":232},{"t":14.0,"v":240},{"t":14.15,"v":245},{"t":14.3,"v":238},{"t":14.45,"v":250},{"t":14.55,"v":315},{"t":14.65,"v":330},{"t":14.8,"v":290},{"t":14.95,"v":270},{"t":15.1,"v":265},{"t":15.25,"v":275},{"t":15.4,"v":282},{"t":15.55,"v":290},{"t":15.7,"v":300},{"t":15.85,"v":308},{"t":16.0,"v":302},{"t":16.15,"v":310},{"t":16.3,"v":305},{"t":16.45,"v":300},{"t":16.6,"v":310},{"t":16.75,"v":322},{"t":16.9,"v":318},{"t":17.05,"v":300},{"t":17.2,"v":292},{"t":17.35,"v":285},{"t":17.5,"v":280},{"t":17.65,"v":275},{"t":17.8,"v":265},{"t":17.95,"v":262},{"t":18.1,"v":258},{"t":18.25,"v":255},{"t":18.4,"v":262},{"t":18.55,"v":250},{"t":18.7,"v":245},{"t":18.85,"v":255},{"t":19.0,"v":252},{"t":19.15,"v":248},{"t":19.3,"v":238},{"t":19.45,"v":225},{"t":19.6,"v":218},{"t":19.75,"v":215},{"t":19.9,"v":220},{"t":20.05,"v":212},{"t":20.2,"v":222},{"t":20.35,"v":235},{"t":20.5,"v":248},{"t":20.65,"v":240},{"t":20.8,"v":250},{"t":20.95,"v":242},{"t":21.1,"v":252},{"t":21.25,"v":245},{"t":21.4,"v":240},{"t":21.55,"v":250},{"t":21.7,"v":235},{"t":21.85,"v":210},{"t":22.0,"v":202},{"t":22.15,"v":198},{"t":22.3,"v":205},{"t":22.45,"v":200},{"t":22.6,"v":196},{"t":22.75,"v":215},{"t":22.9,"v":225},{"t":23.05,"v":218},{"t":23.2,"v":232},{"t":23.35,"v":228},{"t":23.5,"v":240},{"t":23.65,"v":225},{"t":23.8,"v":245},{"t":23.9,"v":275},{"t":24,"v":300}],
"b6":[{"t":0.05,"v":100},{"t":0.15,"v":98},{"t":0.25,"v":104},{"t":0.35,"v":96},{"t":0.45,"v":108},{"t":0.55,"v":115},{"t":0.65,"v":128},{"t":0.75,"v":135},{"t":0.85,"v":120},{"t":0.95,"v":110},{"t":1.05,"v":118},{"t":1.15,"v":102},{"t":1.25,"v":112},{"t":1.35,"v":95},{"t":1.45,"v":105},{"t":1.55,"v":118},{"t":1.65,"v":100},{"t":1.8,"v":92},{"t":1.95,"v":110},{"t":2.1,"v":125},{"t":2.2,"v":240},{"t":2.25,"v":275},{"t":2.3,"v":255},{"t":2.35,"v":230},{"t":2.4,"v":205},{"t":2.45,"v":190},{"t":2.55,"v":150},{"t":2.65,"v":140},{"t":2.75,"v":135},{"t":2.9,"v":145},{"t":3.0,"v":130},{"t":3.15,"v":140},{"t":3.3,"v":125},{"t":3.45,"v":135},{"t":3.6,"v":118},{"t":3.75,"v":120},{"t":3.9,"v":112},{"t":4.05,"v":118},{"t":4.2,"v":110},{"t":4.35,"v":115},{"t":4.5,"v":108},{"t":4.65,"v":112},{"t":4.8,"v":105},{"t":4.95,"v":110},{"t":5.1,"v":115},{"t":5.25,"v":108},{"t":5.4,"v":105},{"t":5.55,"v":100},{"t":5.7,"v":98},{"t":5.85,"v":95},{"t":6.0,"v":102},{"t":6.15,"v":98},{"t":6.25,"v":300},{"t":6.35,"v":310},{"t":6.45,"v":295},{"t":6.55,"v":200},{"t":6.65,"v":110},{"t":6.8,"v":105},{"t":6.95,"v":100},{"t":7.1,"v":95},{"t":7.2,"v":240},{"t":7.3,"v":225},{"t":7.4,"v":235},{"t":7.5,"v":215},{"t":7.65,"v":135},{"t":7.8,"v":120},{"t":7.95,"v":140},{"t":8.1,"v":118},{"t":8.25,"v":130},{"t":8.4,"v":110},{"t":8.55,"v":128},{"t":8.7,"v":140},{"t":8.85,"v":125},{"t":9.0,"v":135},{"t":9.15,"v":130},{"t":9.3,"v":138},{"t":9.45,"v":125},{"t":9.6,"v":80},{"t":9.7,"v":72},{"t":9.8,"v":65},{"t":9.9,"v":78},{"t":10.0,"v":60},{"t":10.1,"v":52},{"t":10.2,"v":70},{"t":10.3,"v":55},{"t":10.45,"v":45},{"t":10.6,"v":30},{"t":10.7,"v":15},{"t":10.8,"v":5},{"t":10.9,"v":20},{"t":11.0,"v":105},{"t":11.1,"v":115},{"t":11.25,"v":120},{"t":11.4,"v":125},{"t":11.55,"v":130},{"t":11.7,"v":128},{"t":11.85,"v":135},{"t":12.0,"v":140},{"t":12.2,"v":145},{"t":12.4,"v":150},{"t":12.6,"v":155},{"t":12.8,"v":158},{"t":13.0,"v":152},{"t":13.2,"v":148},{"t":13.4,"v":142},{"t":13.6,"v":138},{"t":13.8,"v":145},{"t":14.0,"v":150},{"t":14.2,"v":140},{"t":14.4,"v":145},{"t":14.6,"v":150},{"t":14.8,"v":148},{"t":15.0,"v":155},{"t":15.2,"v":158},{"t":15.4,"v":160},{"t":15.6,"v":165},{"t":15.8,"v":162},{"t":16.0,"v":158},{"t":16.2,"v":152},{"t":16.4,"v":148},{"t":16.6,"v":145},{"t":16.8,"v":142},{"t":17.0,"v":140},{"t":17.2,"v":138},{"t":17.4,"v":142},{"t":17.6,"v":140},{"t":17.8,"v":145},{"t":18.0,"v":148},{"t":18.2,"v":150},{"t":18.4,"v":145},{"t":18.6,"v":142},{"t":18.8,"v":140},{"t":19.0,"v":142},{"t":19.2,"v":138},{"t":19.4,"v":140},{"t":19.6,"v":142},{"t":19.8,"v":138},{"t":20.0,"v":140},{"t":20.2,"v":142},{"t":20.4,"v":140},{"t":20.6,"v":132},{"t":20.8,"v":125},{"t":21.0,"v":120},{"t":21.2,"v":118},{"t":21.4,"v":122},{"t":21.6,"v":125},{"t":21.8,"v":130},{"t":22.0,"v":135},{"t":22.2,"v":140},{"t":22.4,"v":145},{"t":22.6,"v":150},{"t":22.8,"v":158},{"t":23.0,"v":152},{"t":23.2,"v":148},{"t":23.4,"v":150},{"t":23.6,"v":148},{"t":23.8,"v":150},{"t":24.0,"v":148}],
"r7":[{"t":0,"v":5.0},{"t":0.3,"v":5.4},{"t":0.6,"v":4.6},{"t":1.0,"v":4.3},{"t":1.5,"v":4.4},{"t":2.0,"v":4.2},{"t":2.5,"v":4.5},{"t":2.7,"v":5.6},{"t":3.0,"v":5.2},{"t":3.5,"v":5.4},{"t":3.9,"v":5.0},{"t":4.2,"v":4.2},{"t":4.6,"v":4.0},{"t":5.0,"v":3.8},{"t":5.2,"v":3.1},{"t":5.4,"v":3.2},{"t":5.6,"v":4.6},{"t":5.9,"v":5.2},{"t":6.2,"v":5.0},{"t":6.6,"v":5.3},{"t":7.0,"v":5.3},{"t":7.5,"v":5.2},{"t":8.0,"v":5.0},{"t":8.5,"v":5.1},{"t":8.8,"v":5.3},{"t":9.0,"v":6.5},{"t":9.2,"v":10.5},{"t":9.4,"v":9.2},{"t":9.5,"v":7.0},{"t":9.6,"v":10.2},{"t":9.8,"v":11.8},{"t":10.0,"v":11.0},{"t":10.3,"v":11.2},{"t":10.6,"v":10.8},{"t":11.0,"v":10.2},{"t":11.2,"v":8.0},{"t":11.6,"v":7.4},{"t":12.0,"v":7.0},{"t":12.5,"v":6.8},{"t":13.0,"v":7.2},{"t":13.5,"v":7.4},{"t":14.0,"v":7.6},{"t":14.5,"v":7.5},{"t":15.0,"v":8.8},{"t":15.5,"v":9.2},{"t":16.0,"v":9.4},{"t":16.5,"v":9.6},{"t":17.0,"v":9.3},{"t":17.5,"v":9.5},{"t":18.0,"v":9.4},{"t":18.5,"v":9.1},{"t":19.0,"v":9.2},{"t":19.5,"v":8.8},{"t":20.0,"v":8.7},{"t":20.5,"v":8.9},{"t":21.0,"v":8.5},{"t":21.5,"v":8.7},{"t":22.0,"v":8.6},{"t":22.5,"v":8.3},{"t":23.0,"v":8.8},{"t":23.5,"v":9.4},{"t":24,"v":10.0}],
"b7":[{"t":0.0,"v":3.8},{"t":0.15,"v":3.4},{"t":0.3,"v":4.0},{"t":0.45,"v":3.6},{"t":0.6,"v":3.3},{"t":0.75,"v":3.9},{"t":0.9,"v":3.5},{"t":1.05,"v":3.7},{"t":1.2,"v":3.2},{"t":1.35,"v":3.8},{"t":1.5,"v":3.6},{"t":1.65,"v":3.4},{"t":1.8,"v":3.9},{"t":1.95,"v":3.5},{"t":2.1,"v":3.7},{"t":2.2,"v":0.9},{"t":2.25,"v":2.2},{"t":2.35,"v":3.3},{"t":2.5,"v":3.8},{"t":2.65,"v":3.1},{"t":2.8,"v":3.6},{"t":2.95,"v":2.6},{"t":3.1,"v":3.9},{"t":3.25,"v":3.4},{"t":3.4,"v":3.7},{"t":3.55,"v":2.8},{"t":3.7,"v":3.5},{"t":3.85,"v":3.8},{"t":4.0,"v":3.3},{"t":4.15,"v":3.6},{"t":4.3,"v":3.9},{"t":4.45,"v":3.4},{"t":4.6,"v":3.7},{"t":4.75,"v":2.5},{"t":4.9,"v":3.5},{"t":5.05,"v":3.2},{"t":5.2,"v":3.6},{"t":5.35,"v":3.0},{"t":5.5,"v":3.8},{"t":5.65,"v":3.5},{"t":5.8,"v":3.9},{"t":5.95,"v":3.4},{"t":6.1,"v":3.7},{"t":6.2,"v":1.6},{"t":6.3,"v":1.1},{"t":6.4,"v":0.5},{"t":6.5,"v":2.0},{"t":6.6,"v":3.5},{"t":6.75,"v":3.9},{"t":6.9,"v":3.3},{"t":7.05,"v":3.6},{"t":7.2,"v":3.8},{"t":7.35,"v":3.4},{"t":7.5,"v":3.7},{"t":7.65,"v":3.5},{"t":7.8,"v":3.2},{"t":7.95,"v":3.6},{"t":8.1,"v":3.4},{"t":8.25,"v":3.7},{"t":8.4,"v":3.3},{"t":8.55,"v":3.6},{"t":8.7,"v":3.4},{"t":8.85,"v":3.2},{"t":9.0,"v":2.2},{"t":9.1,"v":1.3},{"t":9.2,"v":1.8},{"t":9.3,"v":0.9},{"t":9.4,"v":2.6},{"t":9.5,"v":1.5},{"t":9.6,"v":2.0},{"t":9.7,"v":1.1},{"t":9.8,"v":2.9},{"t":9.9,"v":1.7},{"t":10.0,"v":2.3},{"t":10.1,"v":1.4},{"t":10.2,"v":3.1},{"t":10.3,"v":1.9},{"t":10.4,"v":1.2},{"t":10.5,"v":2.4},{"t":10.6,"v":1.6},{"t":10.7,"v":2.8},{"t":10.8,"v":1.0},{"t":10.9,"v":2.1},{"t":11.0,"v":1.5},{"t":11.1,"v":2.6},{"t":11.2,"v":1.8},{"t":11.3,"v":3.0},{"t":11.4,"v":1.3},{"t":11.5,"v":2.2},{"t":11.6,"v":1.7},{"t":11.7,"v":0.9},{"t":11.8,"v":2.5},{"t":11.9,"v":1.4},{"t":12.0,"v":2.0},{"t":12.1,"v":1.1},{"t":12.2,"v":2.7},{"t":12.3,"v":1.6},{"t":12.4,"v":2.2},{"t":12.5,"v":1.2},{"t":12.6,"v":1.9},{"t":12.7,"v":0.8},{"t":12.8,"v":2.4},{"t":12.9,"v":1.5},{"t":13.0,"v":2.9},{"t":13.1,"v":1.3},{"t":13.2,"v":1.8},{"t":13.3,"v":2.3},{"t":13.4,"v":1.0},{"t":13.5,"v":1.7},{"t":13.6,"v":2.6},{"t":13.7,"v":1.4},{"t":13.8,"v":2.1},{"t":13.9,"v":0.9},{"t":14.0,"v":1.6},{"t":14.1,"v":2.8},{"t":14.2,"v":1.2},{"t":14.3,"v":2.0},{"t":14.4,"v":1.5},{"t":14.5,"v":2.4},{"t":14.6,"v":1.1},{"t":14.7,"v":1.8},{"t":14.8,"v":3.1},{"t":14.9,"v":1.3},{"t":15.0,"v":2.2},{"t":15.1,"v":1.6},{"t":15.2,"v":0.9},{"t":15.3,"v":2.5},{"t":15.4,"v":1.4},{"t":15.5,"v":1.9},{"t":15.6,"v":2.7},{"t":15.7,"v":1.2},{"t":15.8,"v":2.0},{"t":15.9,"v":1.5},{"t":16.0,"v":2.3},{"t":16.1,"v":1.0},{"t":16.2,"v":1.7},{"t":16.3,"v":2.6},{"t":16.4,"v":1.3},{"t":16.5,"v":2.1},{"t":16.6,"v":1.6},{"t":16.7,"v":0.8},{"t":16.8,"v":2.4},{"t":16.9,"v":1.4},{"t":17.0,"v":1.9},{"t":17.1,"v":2.8},{"t":17.2,"v":1.1},{"t":17.3,"v":2.2},{"t":17.4,"v":1.5},{"t":17.5,"v":1.8},{"t":17.6,"v":2.5},{"t":17.7,"v":1.2},{"t":17.8,"v":2.0},{"t":17.9,"v":1.6},{"t":18.0,"v":2.9},{"t":18.1,"v":1.3},{"t":18.2,"v":2.1},{"t":18.3,"v":1.7},{"t":18.4,"v":1.0},{"t":18.5,"v":2.4},{"t":18.6,"v":1.5},{"t":18.7,"v":2.0},{"t":18.8,"v":1.2},{"t":18.9,"v":2.6},{"t":19.0,"v":1.8},{"t":19.1,"v":1.4},{"t":19.2,"v":2.2},{"t":19.3,"v":0.9},{"t":19.4,"v":1.6},{"t":19.5,"v":2.7},{"t":19.6,"v":1.3},{"t":19.7,"v":2.0},{"t":19.8,"v":1.5},{"t":19.9,"v":2.4},{"t":20.0,"v":1.1},{"t":20.1,"v":1.8},{"t":20.2,"v":2.9},{"t":20.3,"v":1.4},{"t":20.4,"v":2.1},{"t":20.5,"v":1.6},{"t":20.6,"v":0.8},{"t":20.7,"v":2.3},{"t":20.8,"v":1.3},{"t":20.9,"v":1.9},{"t":21.0,"v":2.6},{"t":21.1,"v":1.2},{"t":21.2,"v":2.0},{"t":21.3,"v":1.5},{"t":21.4,"v":2.8},{"t":21.5,"v":1.0},{"t":21.6,"v":1.7},{"t":21.7,"v":2.4},{"t":21.8,"v":1.3},{"t":21.9,"v":2.1},{"t":22.0,"v":1.6},{"t":22.1,"v":2.7},{"t":22.2,"v":1.1},{"t":22.3,"v":1.9},{"t":22.4,"v":1.4},{"t":22.5,"v":2.3},{"t":22.6,"v":0.9},{"t":22.7,"v":1.7},{"t":22.8,"v":2.5},{"t":22.9,"v":1.2},{"t":23.0,"v":2.0},{"t":23.1,"v":1.5},{"t":23.2,"v":2.8},{"t":23.3,"v":1.0},{"t":23.4,"v":1.8},{"t":23.5,"v":2.2},{"t":23.6,"v":1.3},{"t":23.7,"v":0.8},{"t":23.8,"v":2.6},{"t":23.9,"v":1.4},{"t":24.0,"v":1.9}],
"r8":[{"t":0,"v":423},{"t":0.3,"v":432},{"t":0.6,"v":436},{"t":1.0,"v":444},{"t":1.5,"v":448},{"t":2.0,"v":462},{"t":2.5,"v":458},{"t":3.0,"v":462},{"t":3.5,"v":456},{"t":4.0,"v":460},{"t":4.5,"v":455},{"t":5.0,"v":452},{"t":5.5,"v":456},{"t":5.8,"v":450},{"t":6.0,"v":438},{"t":6.5,"v":434},{"t":7.0,"v":430},{"t":7.5,"v":426},{"t":8.0,"v":430},{"t":8.2,"v":444},{"t":8.6,"v":442},{"t":8.9,"v":432},{"t":9.5,"v":434},{"t":10.0,"v":436},{"t":10.5,"v":430},{"t":11.0,"v":432},{"t":11.5,"v":428},{"t":12.0,"v":426},{"t":12.5,"v":424},{"t":13.0,"v":425},{"t":13.5,"v":424},{"t":14.0,"v":422},{"t":14.5,"v":421},{"t":15.0,"v":416},{"t":15.5,"v":414},{"t":16.0,"v":412},{"t":16.5,"v":412},{"t":17.0,"v":410},{"t":17.5,"v":409},{"t":18.0,"v":405},{"t":18.5,"v":404},{"t":19.0,"v":402},{"t":19.5,"v":400},{"t":20.0,"v":398},{"t":20.5,"v":397},{"t":21.0,"v":396},{"t":21.5,"v":395},{"t":22.0,"v":394},{"t":22.5,"v":395},{"t":23.0,"v":392},{"t":23.5,"v":393},{"t":24,"v":388}],
"b8":[{"t":0.0,"v":534},{"t":0.15,"v":530},{"t":0.3,"v":536},{"t":0.45,"v":532},{"t":0.6,"v":528},{"t":0.75,"v":534},{"t":0.9,"v":530},{"t":1.05,"v":527},{"t":1.2,"v":533},{"t":1.35,"v":529},{"t":1.5,"v":531},{"t":1.65,"v":526},{"t":1.8,"v":530},{"t":1.95,"v":528},{"t":2.1,"v":532},{"t":2.2,"v":560},{"t":2.22,"v":620},{"t":2.25,"v":720},{"t":2.28,"v":680},{"t":2.32,"v":590},{"t":2.4,"v":525},{"t":2.55,"v":522},{"t":2.7,"v":526},{"t":2.85,"v":520},{"t":3.0,"v":524},{"t":3.15,"v":519},{"t":3.3,"v":523},{"t":3.45,"v":518},{"t":3.6,"v":522},{"t":3.75,"v":517},{"t":3.9,"v":520},{"t":4.05,"v":516},{"t":4.2,"v":521},{"t":4.35,"v":518},{"t":4.5,"v":515},{"t":4.65,"v":512},{"t":4.8,"v":508},{"t":4.95,"v":504},{"t":5.1,"v":510},{"t":5.25,"v":514},{"t":5.4,"v":518},{"t":5.55,"v":520},{"t":5.7,"v":522},{"t":5.85,"v":525},{"t":6.0,"v":530},{"t":6.1,"v":545},{"t":6.15,"v":600},{"t":6.2,"v":680},{"t":6.25,"v":740},{"t":6.3,"v":720},{"t":6.35,"v":650},{"t":6.4,"v":580},{"t":6.5,"v":540},{"t":6.65,"v":530},{"t":6.8,"v":532},{"t":6.95,"v":528},{"t":7.1,"v":531},{"t":7.25,"v":529},{"t":7.4,"v":532},{"t":7.55,"v":530},{"t":7.7,"v":528},{"t":7.85,"v":531},{"t":8.0,"v":529},{"t":8.15,"v":532},{"t":8.3,"v":530},{"t":8.45,"v":533},{"t":8.6,"v":531},{"t":8.75,"v":535},{"t":8.85,"v":540},{"t":8.95,"v":600},{"t":9.05,"v":620},{"t":9.15,"v":630},{"t":9.25,"v":610},{"t":9.35,"v":640},{"t":9.45,"v":625},{"t":9.55,"v":645},{"t":9.65,"v":630},{"t":9.75,"v":650},{"t":9.85,"v":620},{"t":9.95,"v":660},{"t":10.05,"v":640},{"t":10.15,"v":655},{"t":10.25,"v":670},{"t":10.35,"v":645},{"t":10.45,"v":660},{"t":10.55,"v":650},{"t":10.65,"v":640},{"t":10.75,"v":665},{"t":10.85,"v":655},{"t":10.95,"v":645},{"t":11.05,"v":660},{"t":11.15,"v":650},{"t":11.25,"v":668},{"t":11.35,"v":640},{"t":11.45,"v":655},{"t":11.55,"v":662},{"t":11.65,"v":648},{"t":11.75,"v":658},{"t":11.85,"v":640},{"t":11.95,"v":650},{"t":12.05,"v":630},{"t":12.15,"v":645},{"t":12.25,"v":620},{"t":12.35,"v":655},{"t":12.45,"v":635},{"t":12.55,"v":610},{"t":12.65,"v":640},{"t":12.75,"v":625},{"t":12.85,"v":650},{"t":12.95,"v":615},{"t":13.05,"v":635},{"t":13.15,"v":620},{"t":13.3,"v":645},{"t":13.45,"v":610},{"t":13.6,"v":638},{"t":13.75,"v":625},{"t":13.9,"v":605},{"t":14.05,"v":640},{"t":14.2,"v":620},{"t":14.35,"v":650},{"t":14.5,"v":615},{"t":14.65,"v":630},{"t":14.8,"v":608},{"t":14.95,"v":645},{"t":15.1,"v":622},{"t":15.25,"v":610},{"t":15.4,"v":640},{"t":15.55,"v":618},{"t":15.7,"v":632},{"t":15.85,"v":605},{"t":16.0,"v":642},{"t":16.15,"v":620},{"t":16.3,"v":612},{"t":16.45,"v":648},{"t":16.6,"v":625},{"t":16.75,"v":610},{"t":16.9,"v":635},{"t":17.05,"v":620},{"t":17.2,"v":650},{"t":17.35,"v":615},{"t":17.5,"v":630},{"t":17.65,"v":608},{"t":17.8,"v":640},{"t":17.95,"v":622},{"t":18.1,"v":612},{"t":18.25,"v":600},{"t":18.35,"v":565},{"t":18.5,"v":560},{"t":18.65,"v":575},{"t":18.8,"v":630},{"t":18.95,"v":615},{"t":19.1,"v":640},{"t":19.25,"v":605},{"t":19.4,"v":625},{"t":19.55,"v":610},{"t":19.7,"v":630},{"t":19.85,"v":560},{"t":20.0,"v":555},{"t":20.15,"v":552},{"t":20.3,"v":570},{"t":20.45,"v":620},{"t":20.6,"v":640},{"t":20.75,"v":605},{"t":20.9,"v":625},{"t":21.05,"v":650},{"t":21.2,"v":610},{"t":21.35,"v":630},{"t":21.5,"v":590},{"t":21.65,"v":575},{"t":21.8,"v":600},{"t":21.95,"v":560},{"t":22.1,"v":585},{"t":22.25,"v":620},{"t":22.4,"v":640},{"t":22.55,"v":600},{"t":22.7,"v":630},{"t":22.85,"v":655},{"t":23.0,"v":610},{"t":23.15,"v":580},{"t":23.3,"v":640},{"t":23.45,"v":600},{"t":23.6,"v":625},{"t":23.75,"v":570},{"t":23.9,"v":615},{"t":24.0,"v":640}],
"r9":[{"t":0,"v":65000},{"t":0.3,"v":70000},{"t":0.5,"v":82000},{"t":0.8,"v":90000},{"t":1.1,"v":85000},{"t":1.4,"v":82000},{"t":1.6,"v":110000},{"t":1.9,"v":125000},{"t":2.2,"v":95000},{"t":2.6,"v":98000},{"t":3.0,"v":94000},{"t":3.4,"v":96000},{"t":3.8,"v":95000},{"t":3.95,"v":150000},{"t":4.2,"v":145000},{"t":4.4,"v":96000},{"t":4.7,"v":175000},{"t":4.9,"v":185000},{"t":5.1,"v":120000},{"t":5.5,"v":115000},{"t":5.8,"v":85000},{"t":6.2,"v":82000},{"t":6.6,"v":80000},{"t":7.0,"v":78000},{"t":7.25,"v":48000},{"t":7.6,"v":47000},{"t":8.0,"v":49000},{"t":8.1,"v":65000},{"t":8.5,"v":67000},{"t":9.0,"v":63000},{"t":9.3,"v":55000},{"t":9.7,"v":53000},{"t":10.1,"v":56000},{"t":10.4,"v":37000},{"t":10.8,"v":35000},{"t":11.3,"v":34000},{"t":11.8,"v":36000},{"t":12.1,"v":28000},{"t":12.5,"v":27000},{"t":12.9,"v":32000},{"t":13.3,"v":30000},{"t":13.6,"v":28000},{"t":14.0,"v":28000},{"t":14.5,"v":27000},{"t":15.0,"v":28000},{"t":15.4,"v":26000},{"t":16.0,"v":25500},{"t":16.5,"v":26000},{"t":17.0,"v":26000},{"t":17.5,"v":25500},{"t":18.0,"v":27000},{"t":18.5,"v":28000},{"t":18.9,"v":32000},{"t":19.3,"v":30000},{"t":19.8,"v":31000},{"t":20.3,"v":32000},{"t":20.8,"v":33000},{"t":21.3,"v":34000},{"t":21.8,"v":33000},{"t":22.3,"v":30000},{"t":22.8,"v":33000},{"t":23.3,"v":34000},{"t":23.8,"v":35000},{"t":24,"v":38000}],
"b9":[{"t":0.0,"v":620000},{"t":0.15,"v":580000},{"t":0.3,"v":650000},{"t":0.45,"v":550000},{"t":0.6,"v":600000},{"t":0.75,"v":520000},{"t":0.9,"v":590000},{"t":1.05,"v":540000},{"t":1.2,"v":630000},{"t":1.35,"v":560000},{"t":1.5,"v":600000},{"t":1.65,"v":530000},{"t":1.8,"v":580000},{"t":1.95,"v":620000},{"t":2.1,"v":550000},{"t":2.2,"v":400000},{"t":2.25,"v":250000},{"t":2.3,"v":150000},{"t":2.35,"v":320000},{"t":2.45,"v":500000},{"t":2.6,"v":460000},{"t":2.75,"v":530000},{"t":2.9,"v":440000},{"t":3.05,"v":570000},{"t":3.2,"v":480000},{"t":3.35,"v":550000},{"t":3.5,"v":510000},{"t":3.65,"v":590000},{"t":3.8,"v":530000},{"t":3.95,"v":560000},{"t":4.1,"v":500000},{"t":4.25,"v":580000},{"t":4.4,"v":520000},{"t":4.55,"v":550000},{"t":4.7,"v":490000},{"t":4.85,"v":570000},{"t":5.0,"v":530000},{"t":5.15,"v":590000},{"t":5.3,"v":540000},{"t":5.45,"v":600000},{"t":5.6,"v":550000},{"t":5.75,"v":580000},{"t":5.9,"v":520000},{"t":6.05,"v":610000},{"t":6.15,"v":750000},{"t":6.2,"v":350000},{"t":6.25,"v":180000},{"t":6.3,"v":120000},{"t":6.35,"v":250000},{"t":6.45,"v":500000},{"t":6.6,"v":570000},{"t":6.75,"v":540000},{"t":6.9,"v":600000},{"t":7.05,"v":550000},{"t":7.2,"v":620000},{"t":7.35,"v":560000},{"t":7.5,"v":600000},{"t":7.65,"v":530000},{"t":7.8,"v":590000},{"t":7.95,"v":630000},{"t":8.1,"v":560000},{"t":8.25,"v":610000},{"t":8.4,"v":570000},{"t":8.55,"v":640000},{"t":8.7,"v":680000},{"t":8.85,"v":720000},{"t":8.95,"v":160000},{"t":9.05,"v":130000},{"t":9.1,"v":550000},{"t":9.2,"v":150000},{"t":9.3,"v":120000},{"t":9.4,"v":350000},{"t":9.5,"v":140000},{"t":9.6,"v":170000},{"t":9.7,"v":240000},{"t":9.8,"v":130000},{"t":9.9,"v":160000},{"t":10.0,"v":650000},{"t":10.1,"v":150000},{"t":10.2,"v":120000},{"t":10.3,"v":300000},{"t":10.4,"v":140000},{"t":10.5,"v":180000},{"t":10.6,"v":700000},{"t":10.7,"v":130000},{"t":10.8,"v":150000},{"t":10.9,"v":280000},{"t":11.0,"v":160000},{"t":11.1,"v":120000},{"t":11.2,"v":500000},{"t":11.3,"v":140000},{"t":11.4,"v":170000},{"t":11.5,"v":380000},{"t":11.6,"v":130000},{"t":11.7,"v":150000},{"t":11.8,"v":600000},{"t":11.9,"v":120000},{"t":12.0,"v":160000},{"t":12.1,"v":260000},{"t":12.2,"v":140000},{"t":12.3,"v":130000},{"t":12.4,"v":450000},{"t":12.5,"v":150000},{"t":12.6,"v":170000},{"t":12.7,"v":750000},{"t":12.8,"v":130000},{"t":12.9,"v":140000},{"t":13.0,"v":320000},{"t":13.1,"v":160000},{"t":13.2,"v":120000},{"t":13.3,"v":550000},{"t":13.4,"v":150000},{"t":13.5,"v":130000},{"t":13.6,"v":220000},{"t":13.7,"v":140000},{"t":13.8,"v":170000},{"t":13.9,"v":680000},{"t":14.0,"v":130000},{"t":14.1,"v":150000},{"t":14.2,"v":400000},{"t":14.3,"v":120000},{"t":14.4,"v":160000},{"t":14.5,"v":290000},{"t":14.6,"v":140000},{"t":14.7,"v":130000},{"t":14.8,"v":780000},{"t":14.9,"v":150000},{"t":15.0,"v":120000},{"t":15.1,"v":360000},{"t":15.2,"v":140000},{"t":15.3,"v":170000},{"t":15.4,"v":520000},{"t":15.5,"v":130000},{"t":15.6,"v":150000},{"t":15.7,"v":240000},{"t":15.8,"v":120000},{"t":15.9,"v":160000},{"t":16.0,"v":620000},{"t":16.1,"v":140000},{"t":16.2,"v":130000},{"t":16.3,"v":330000},{"t":16.4,"v":150000},{"t":16.5,"v":170000},{"t":16.6,"v":720000},{"t":16.7,"v":120000},{"t":16.8,"v":140000},{"t":16.9,"v":440000},{"t":17.0,"v":160000},{"t":17.1,"v":130000},{"t":17.2,"v":270000},{"t":17.3,"v":150000},{"t":17.4,"v":120000},{"t":17.5,"v":580000},{"t":17.6,"v":140000},{"t":17.7,"v":160000},{"t":17.8,"v":310000},{"t":17.9,"v":130000},{"t":18.0,"v":150000},{"t":18.1,"v":660000},{"t":18.2,"v":120000},{"t":18.3,"v":140000},{"t":18.4,"v":820000},{"t":18.5,"v":780000},{"t":18.6,"v":160000},{"t":18.7,"v":130000},{"t":18.8,"v":380000},{"t":18.9,"v":150000},{"t":19.0,"v":120000},{"t":19.1,"v":540000},{"t":19.2,"v":140000},{"t":19.3,"v":170000},{"t":19.4,"v":250000},{"t":19.5,"v":130000},{"t":19.6,"v":150000},{"t":19.7,"v":700000},{"t":19.8,"v":140000},{"t":19.9,"v":120000},{"t":20.0,"v":420000},{"t":20.1,"v":160000},{"t":20.2,"v":130000},{"t":20.3,"v":750000},{"t":20.4,"v":150000},{"t":20.5,"v":140000},{"t":20.6,"v":300000},{"t":20.7,"v":120000},{"t":20.8,"v":160000},{"t":20.9,"v":600000},{"t":21.0,"v":130000},{"t":21.1,"v":150000},{"t":21.2,"v":230000},{"t":21.3,"v":140000},{"t":21.4,"v":120000},{"t":21.5,"v":760000},{"t":21.6,"v":160000},{"t":21.7,"v":130000},{"t":21.8,"v":350000},{"t":21.9,"v":150000},{"t":22.0,"v":140000},{"t":22.1,"v":560000},{"t":22.2,"v":120000},{"t":22.3,"v":160000},{"t":22.4,"v":280000},{"t":22.5,"v":130000},{"t":22.6,"v":150000},{"t":22.7,"v":680000},{"t":22.8,"v":140000},{"t":22.9,"v":120000},{"t":23.0,"v":460000},{"t":23.1,"v":160000},{"t":23.2,"v":130000},{"t":23.3,"v":730000},{"t":23.4,"v":150000},{"t":23.5,"v":140000},{"t":23.6,"v":320000},{"t":23.7,"v":120000},{"t":23.8,"v":160000},{"t":23.9,"v":590000},{"t":24.0,"v":140000}]
},
"vconcat":[
{"width":416,"height":80,
 "title":{"text":"IMPACT/PLASTIC\u00a0\u00a0\u00a018-Jul-2017","fontSize":16,"offset":4,"anchor":"middle"},
 "layer":[
  {"data":{"name":"b1"},"mark":{"type":"square","size":5,"color":"#c98a6c","opacity":1,"clip":true},
   "encoding":{"x":{"field":"t","type":"quantitative","scale":{"domain":[0,24],"nice":false,"zero":false},"axis":{"orient":"bottom","values":[0,2,4,6,8,10,12,14,16,18,20,22,24],"tickSize":-5,"labels":false,"title":null}},
   "y":{"field":"v","type":"quantitative","scale":{"domain":[-8,8],"nice":false,"zero":false},"axis":{"orient":"left","values":[-5,0,5],"tickSize":7,"title":"Bₓ(R)"}}}},
  {"data":{"name":"r1"},"mark":{"type":"line","color":"#ff0000","strokeWidth":2,"clip":true},
   "encoding":{"x":{"field":"t","type":"quantitative","scale":{"domain":[0,24],"nice":false,"zero":false},"axis":{"orient":"top","values":[0,2,4,6,8,10,12,14,16,18,20,22,24],"tickSize":-5,"labels":false,"title":null}},
   "y":{"field":"v","type":"quantitative","scale":{"domain":[-8,8],"nice":false,"zero":false},"axis":{"orient":"right","values":[-5,0,5],"tickSize":-7,"labels":false,"title":null}}}},
  {"data":{"values":[{"a":0,"b":24,"z":0}]},"mark":{"type":"rule","color":"#808080","strokeDash":[8,5],"strokeWidth":1},
   "encoding":{"x":{"field":"a","type":"quantitative","scale":{"domain":[0,24],"nice":false,"zero":false},"axis":null},"x2":{"field":"b"},
   "y":{"field":"z","type":"quantitative","scale":{"domain":[-8,8],"nice":false,"zero":false},"axis":null}}}
 ],
 "resolve":{"scale":{"x":"independent","y":"independent"}}},
{"width":416,"height":81,
 "layer":[
  {"data":{"name":"b2"},"mark":{"type":"square","size":5,"color":"#c98a6c","opacity":1,"clip":true},
   "encoding":{"x":{"field":"t","type":"quantitative","scale":{"domain":[0,24],"nice":false,"zero":false},"axis":{"orient":"bottom","values":[0,2,4,6,8,10,12,14,16,18,20,22,24],"tickSize":-5,"labels":false,"title":null}},
   "y":{"field":"v","type":"quantitative","scale":{"domain":[-8,8],"nice":false,"zero":false},"axis":{"orient":"left","values":[-5,0,5],"tickSize":7,"title":"Bᵧ(T)"}}}},
  {"data":{"name":"r2"},"mark":{"type":"line","color":"#ff0000","strokeWidth":2,"clip":true},
   "encoding":{"x":{"field":"t","type":"quantitative","scale":{"domain":[0,24],"nice":false,"zero":false},"axis":{"orient":"top","values":[0,2,4,6,8,10,12,14,16,18,20,22,24],"tickSize":-5,"labels":false,"title":null}},
   "y":{"field":"v","type":"quantitative","scale":{"domain":[-8,8],"nice":false,"zero":false},"axis":{"orient":"right","values":[-5,0,5],"tickSize":-7,"labels":false,"title":null}}}},
  {"data":{"values":[{"a":0,"b":24,"z":0}]},"mark":{"type":"rule","color":"#808080","strokeDash":[8,5],"strokeWidth":1},
   "encoding":{"x":{"field":"a","type":"quantitative","scale":{"domain":[0,24],"nice":false,"zero":false},"axis":null},"x2":{"field":"b"},
   "y":{"field":"z","type":"quantitative","scale":{"domain":[-8,8],"nice":false,"zero":false},"axis":null}}}
 ],
 "resolve":{"scale":{"x":"independent","y":"independent"}}},
{"width":416,"height":81,
 "layer":[
  {"data":{"name":"b3"},"mark":{"type":"square","size":5,"color":"#c98a6c","opacity":1,"clip":true},
   "encoding":{"x":{"field":"t","type":"quantitative","scale":{"domain":[0,24],"nice":false,"zero":false},"axis":{"orient":"bottom","values":[0,2,4,6,8,10,12,14,16,18,20,22,24],"tickSize":-5,"labels":false,"title":null}},
   "y":{"field":"v","type":"quantitative","scale":{"domain":[-8,8],"nice":false,"zero":false},"axis":{"orient":"left","values":[-5,0,5],"tickSize":7,"title":"Bz(N)"}}}},
  {"data":{"name":"r3"},"mark":{"type":"line","color":"#ff0000","strokeWidth":2,"clip":true},
   "encoding":{"x":{"field":"t","type":"quantitative","scale":{"domain":[0,24],"nice":false,"zero":false},"axis":{"orient":"top","values":[0,2,4,6,8,10,12,14,16,18,20,22,24],"tickSize":-5,"labels":false,"title":null}},
   "y":{"field":"v","type":"quantitative","scale":{"domain":[-8,8],"nice":false,"zero":false},"axis":{"orient":"right","values":[-5,0,5],"tickSize":-7,"labels":false,"title":null}}}},
  {"data":{"values":[{"a":0,"b":24,"z":0}]},"mark":{"type":"rule","color":"#808080","strokeDash":[8,5],"strokeWidth":1},
   "encoding":{"x":{"field":"a","type":"quantitative","scale":{"domain":[0,24],"nice":false,"zero":false},"axis":null},"x2":{"field":"b"},
   "y":{"field":"z","type":"quantitative","scale":{"domain":[-8,8],"nice":false,"zero":false},"axis":{"orient":"left","labels":false,"ticks":false,"title":"(nanoTesla, RTN)","titleFontSize":13,"titleX":-90,"titleY":0,"titleAngle":270,"titleAlign":"center","titleBaseline":"middle"}}}}
 ],
 "resolve":{"scale":{"x":"independent","y":"independent"}}},
{"width":416,"height":81,
 "layer":[
  {"data":{"name":"b4"},"mark":{"type":"square","size":5,"color":"#c98a6c","opacity":1,"clip":true},
   "encoding":{"x":{"field":"t","type":"quantitative","scale":{"domain":[0,24],"nice":false,"zero":false},"axis":{"orient":"bottom","values":[0,2,4,6,8,10,12,14,16,18,20,22,24],"tickSize":-5,"labels":false,"title":null}},
   "y":{"field":"v","type":"quantitative","scale":{"domain":[0,8],"nice":false,"zero":false},"axis":{"orient":"left","values":[0,2,4,6,8],"labelExpr":"datum.value == 0 || datum.value == 4 ? datum.label : ''","tickSize":7,"title":"total B"}}}},
  {"data":{"name":"r4"},"mark":{"type":"line","color":"#ff0000","strokeWidth":2,"clip":true},
   "encoding":{"x":{"field":"t","type":"quantitative","scale":{"domain":[0,24],"nice":false,"zero":false},"axis":{"orient":"top","values":[0,2,4,6,8,10,12,14,16,18,20,22,24],"tickSize":-5,"labels":false,"title":null}},
   "y":{"field":"v","type":"quantitative","scale":{"domain":[0,8],"nice":false,"zero":false},"axis":{"orient":"right","values":[0,2,4,6,8],"tickSize":-7,"labels":false,"title":null}}}}
 ],
 "resolve":{"scale":{"x":"independent","y":"independent"}}},
{"width":416,"height":80,
 "layer":[
  {"data":{"name":"b5"},"mark":{"type":"square","size":5,"color":"#c98a6c","opacity":1,"clip":true},
   "encoding":{"x":{"field":"t","type":"quantitative","scale":{"domain":[0,24],"nice":false,"zero":false},"axis":{"orient":"bottom","values":[0,2,4,6,8,10,12,14,16,18,20,22,24],"tickSize":-5,"labels":false,"title":null}},
   "y":{"field":"v","type":"quantitative","scale":{"domain":[-90,90],"nice":false,"zero":false},"axis":{"orient":"left","values":[-90,-45,0,45,90],"labelExpr":"datum.value == 90 ? '' : datum.label","tickSize":7,"title":"θʙ"}}}},
  {"data":{"name":"r5"},"mark":{"type":"line","color":"#ff0000","strokeWidth":2,"clip":true},
   "encoding":{"x":{"field":"t","type":"quantitative","scale":{"domain":[0,24],"nice":false,"zero":false},"axis":{"orient":"top","values":[0,2,4,6,8,10,12,14,16,18,20,22,24],"tickSize":-5,"labels":false,"title":null}},
   "y":{"field":"v","type":"quantitative","scale":{"domain":[-90,90],"nice":false,"zero":false},"axis":{"orient":"right","values":[-90,-45,0,45,90],"tickSize":-7,"labels":false,"title":null}}}}
 ],
 "resolve":{"scale":{"x":"independent","y":"independent"}}},
{"width":416,"height":81,
 "layer":[
  {"data":{"name":"b6"},"mark":{"type":"square","size":5,"color":"#c98a6c","opacity":1,"clip":true},
   "encoding":{"x":{"field":"t","type":"quantitative","scale":{"domain":[0,24],"nice":false,"zero":false},"axis":{"orient":"bottom","values":[0,2,4,6,8,10,12,14,16,18,20,22,24],"tickSize":-5,"labels":false,"title":null}},
   "y":{"field":"v","type":"quantitative","scale":{"domain":[0,360],"nice":false,"zero":false},"axis":{"orient":"left","values":[0,90,180,270,360],"labelExpr":"datum.value == 360 ? '' : datum.label","tickSize":7,"title":"φʙ"}}}},
  {"data":{"name":"r6"},"mark":{"type":"line","color":"#ff0000","strokeWidth":2,"clip":true},
   "encoding":{"x":{"field":"t","type":"quantitative","scale":{"domain":[0,24],"nice":false,"zero":false},"axis":{"orient":"top","values":[0,2,4,6,8,10,12,14,16,18,20,22,24],"tickSize":-5,"labels":false,"title":null}},
   "y":{"field":"v","type":"quantitative","scale":{"domain":[0,360],"nice":false,"zero":false},"axis":{"orient":"right","values":[0,90,180,270,360],"tickSize":-7,"labels":false,"title":null}}}}
 ],
 "resolve":{"scale":{"x":"independent","y":"independent"}}},
{"width":416,"height":81,
 "layer":[
  {"data":{"name":"b7"},"mark":{"type":"square","size":5,"color":"#c98a6c","opacity":1,"clip":true},
   "encoding":{"x":{"field":"t","type":"quantitative","scale":{"domain":[0,24],"nice":false,"zero":false},"axis":{"orient":"bottom","values":[0,2,4,6,8,10,12,14,16,18,20,22,24],"tickSize":-5,"labels":false,"title":null}},
   "y":{"field":"v","type":"quantitative","scale":{"type":"log","domain":[0.1,100],"nice":false},"axis":{"orient":"left","values":[0.1,0.2,0.3,0.4,0.5,0.6,0.7,0.8,0.9,1,2,3,4,5,6,7,8,9,10,20,30,40,50,60,70,80,90,100],"labelExpr":"datum.value == 1 ? '1' : datum.value == 10 ? '10' : ''","tickSize":{"condition":{"test":"datum.value == 0.1 || datum.value == 1 || datum.value == 10 || datum.value == 100","value":7},"value":3},"title":"Nₚ (cm⁻³)"}}}},
  {"data":{"name":"r7"},"mark":{"type":"line","color":"#ff0000","strokeWidth":2,"clip":true},
   "encoding":{"x":{"field":"t","type":"quantitative","scale":{"domain":[0,24],"nice":false,"zero":false},"axis":{"orient":"top","values":[0,2,4,6,8,10,12,14,16,18,20,22,24],"tickSize":-5,"labels":false,"title":null}},
   "y":{"field":"v","type":"quantitative","scale":{"type":"log","domain":[0.1,100],"nice":false},"axis":{"orient":"right","values":[0.1,1,10,100],"tickSize":-7,"labels":false,"title":null}}}},
  {"data":{"values":[{"t":12,"z":1}]},"mark":{"type":"point","opacity":0},
   "encoding":{"x":{"field":"t","type":"quantitative","scale":{"domain":[0,24],"nice":false,"zero":false},"axis":null},
   "y":{"field":"z","type":"quantitative","scale":{"type":"log","domain":[0.1,100],"nice":false},"axis":{"orient":"left","labels":false,"ticks":false,"title":"Brown: DSCOVR/ACE equivalents","titleColor":"#c98a6c","titleFontSize":13,"titleX":-90,"titleY":0,"titleAngle":270,"titleAlign":"center","titleBaseline":"middle"}}}}
 ],
 "resolve":{"scale":{"x":"independent","y":"independent"}}},
{"width":416,"height":81,
 "layer":[
  {"data":{"name":"b8"},"mark":{"type":"square","size":5,"color":"#c98a6c","opacity":1,"clip":true},
   "encoding":{"x":{"field":"t","type":"quantitative","scale":{"domain":[0,24],"nice":false,"zero":false},"axis":{"orient":"bottom","values":[0,2,4,6,8,10,12,14,16,18,20,22,24],"tickSize":-5,"labels":false,"title":null}},
   "y":{"field":"v","type":"quantitative","scale":{"domain":[300,800],"nice":false,"zero":false},"axis":{"orient":"left","values":[300,400,500,600,700,800],"labelExpr":"datum.value == 400 || datum.value == 600 ? datum.label : ''","tickSize":7,"title":"V (km/s)"}}}},
  {"data":{"name":"r8"},"mark":{"type":"line","color":"#ff0000","strokeWidth":2,"clip":true},
   "encoding":{"x":{"field":"t","type":"quantitative","scale":{"domain":[0,24],"nice":false,"zero":false},"axis":{"orient":"top","values":[0,2,4,6,8,10,12,14,16,18,20,22,24],"tickSize":-5,"labels":false,"title":null}},
   "y":{"field":"v","type":"quantitative","scale":{"domain":[300,800],"nice":false,"zero":false},"axis":{"orient":"right","values":[300,400,500,600,700,800],"tickSize":-7,"labels":false,"title":null}}}}
 ],
 "resolve":{"scale":{"x":"independent","y":"independent"}}},
{"width":416,"height":81,
 "layer":[
  {"data":{"name":"b9"},"mark":{"type":"square","size":5,"color":"#c98a6c","opacity":1,"clip":true},
   "encoding":{"x":{"field":"t","type":"quantitative","scale":{"domain":[0,24],"nice":false,"zero":false},"axis":{"orient":"bottom","values":[0,2,4,6,8,10,12,14,16,18,20,22,24],"tickSize":-5,"labels":true,"labelFlush":false,"labelPadding":6,"labelExpr":"datum.value % 6 == 0 ? ((datum.value % 24) < 10 ? '0' : '') + (datum.value % 24) + ':00' : ''","title":"BLUE: Behind","titleColor":"#0000ff","titleX":0,"titleY":31,"titleAlign":"left","titleBaseline":"middle","titleAngle":0}},
   "y":{"field":"v","type":"quantitative","scale":{"type":"log","domain":[10000,10000000],"nice":false},"axis":{"orient":"left","values":[10000,100000,1000000,10000000],"labelExpr":"datum.value == 100000 ? '10⁵' : datum.value == 1000000 ? '10⁶' : ''","tickSize":7,"title":"Ion Temp"}}}},
  {"data":{"name":"r9"},"mark":{"type":"line","color":"#ff0000","strokeWidth":2,"clip":true},
   "encoding":{"x":{"field":"t","type":"quantitative","scale":{"domain":[0,24],"nice":false,"zero":false},"axis":{"orient":"top","values":[0,2,4,6,8,10,12,14,16,18,20,22,24],"tickSize":-5,"labels":false,"title":null}},
   "y":{"field":"v","type":"quantitative","scale":{"type":"log","domain":[10000,10000000],"nice":false},"axis":{"orient":"right","values":[10000,100000,1000000,10000000],"tickSize":-7,"labels":false,"title":null}}}},
  {"data":{"values":[{"t":12,"z":100000}]},"mark":{"type":"point","opacity":0},
   "encoding":{"x":{"field":"t","type":"quantitative","scale":{"domain":[0,24],"nice":false,"zero":false},"axis":{"orient":"bottom","labels":false,"ticks":false,"title":"Start: 18-Jul-2017 00:00 UTC","titleX":209,"titleY":31,"titleAlign":"center","titleBaseline":"middle","titleAngle":0}},
   "y":{"field":"z","type":"quantitative","scale":{"type":"log","domain":[10000,10000000],"nice":false},"axis":null}}},
  {"data":{"values":[{"t":12,"z":100000}]},"mark":{"type":"point","opacity":0},
   "encoding":{"x":{"field":"t","type":"quantitative","scale":{"domain":[0,24],"nice":false,"zero":false},"axis":{"orient":"bottom","labels":false,"ticks":false,"title":"RED: Ahead","titleColor":"#ff0000","titleX":415,"titleY":31,"titleAlign":"right","titleBaseline":"middle","titleAngle":0}},
   "y":{"field":"z","type":"quantitative","scale":{"type":"log","domain":[10000,10000000],"nice":false},"axis":null}}}
 ],
 "resolve":{"scale":{"x":"independent","y":"independent"}}}
]
}
